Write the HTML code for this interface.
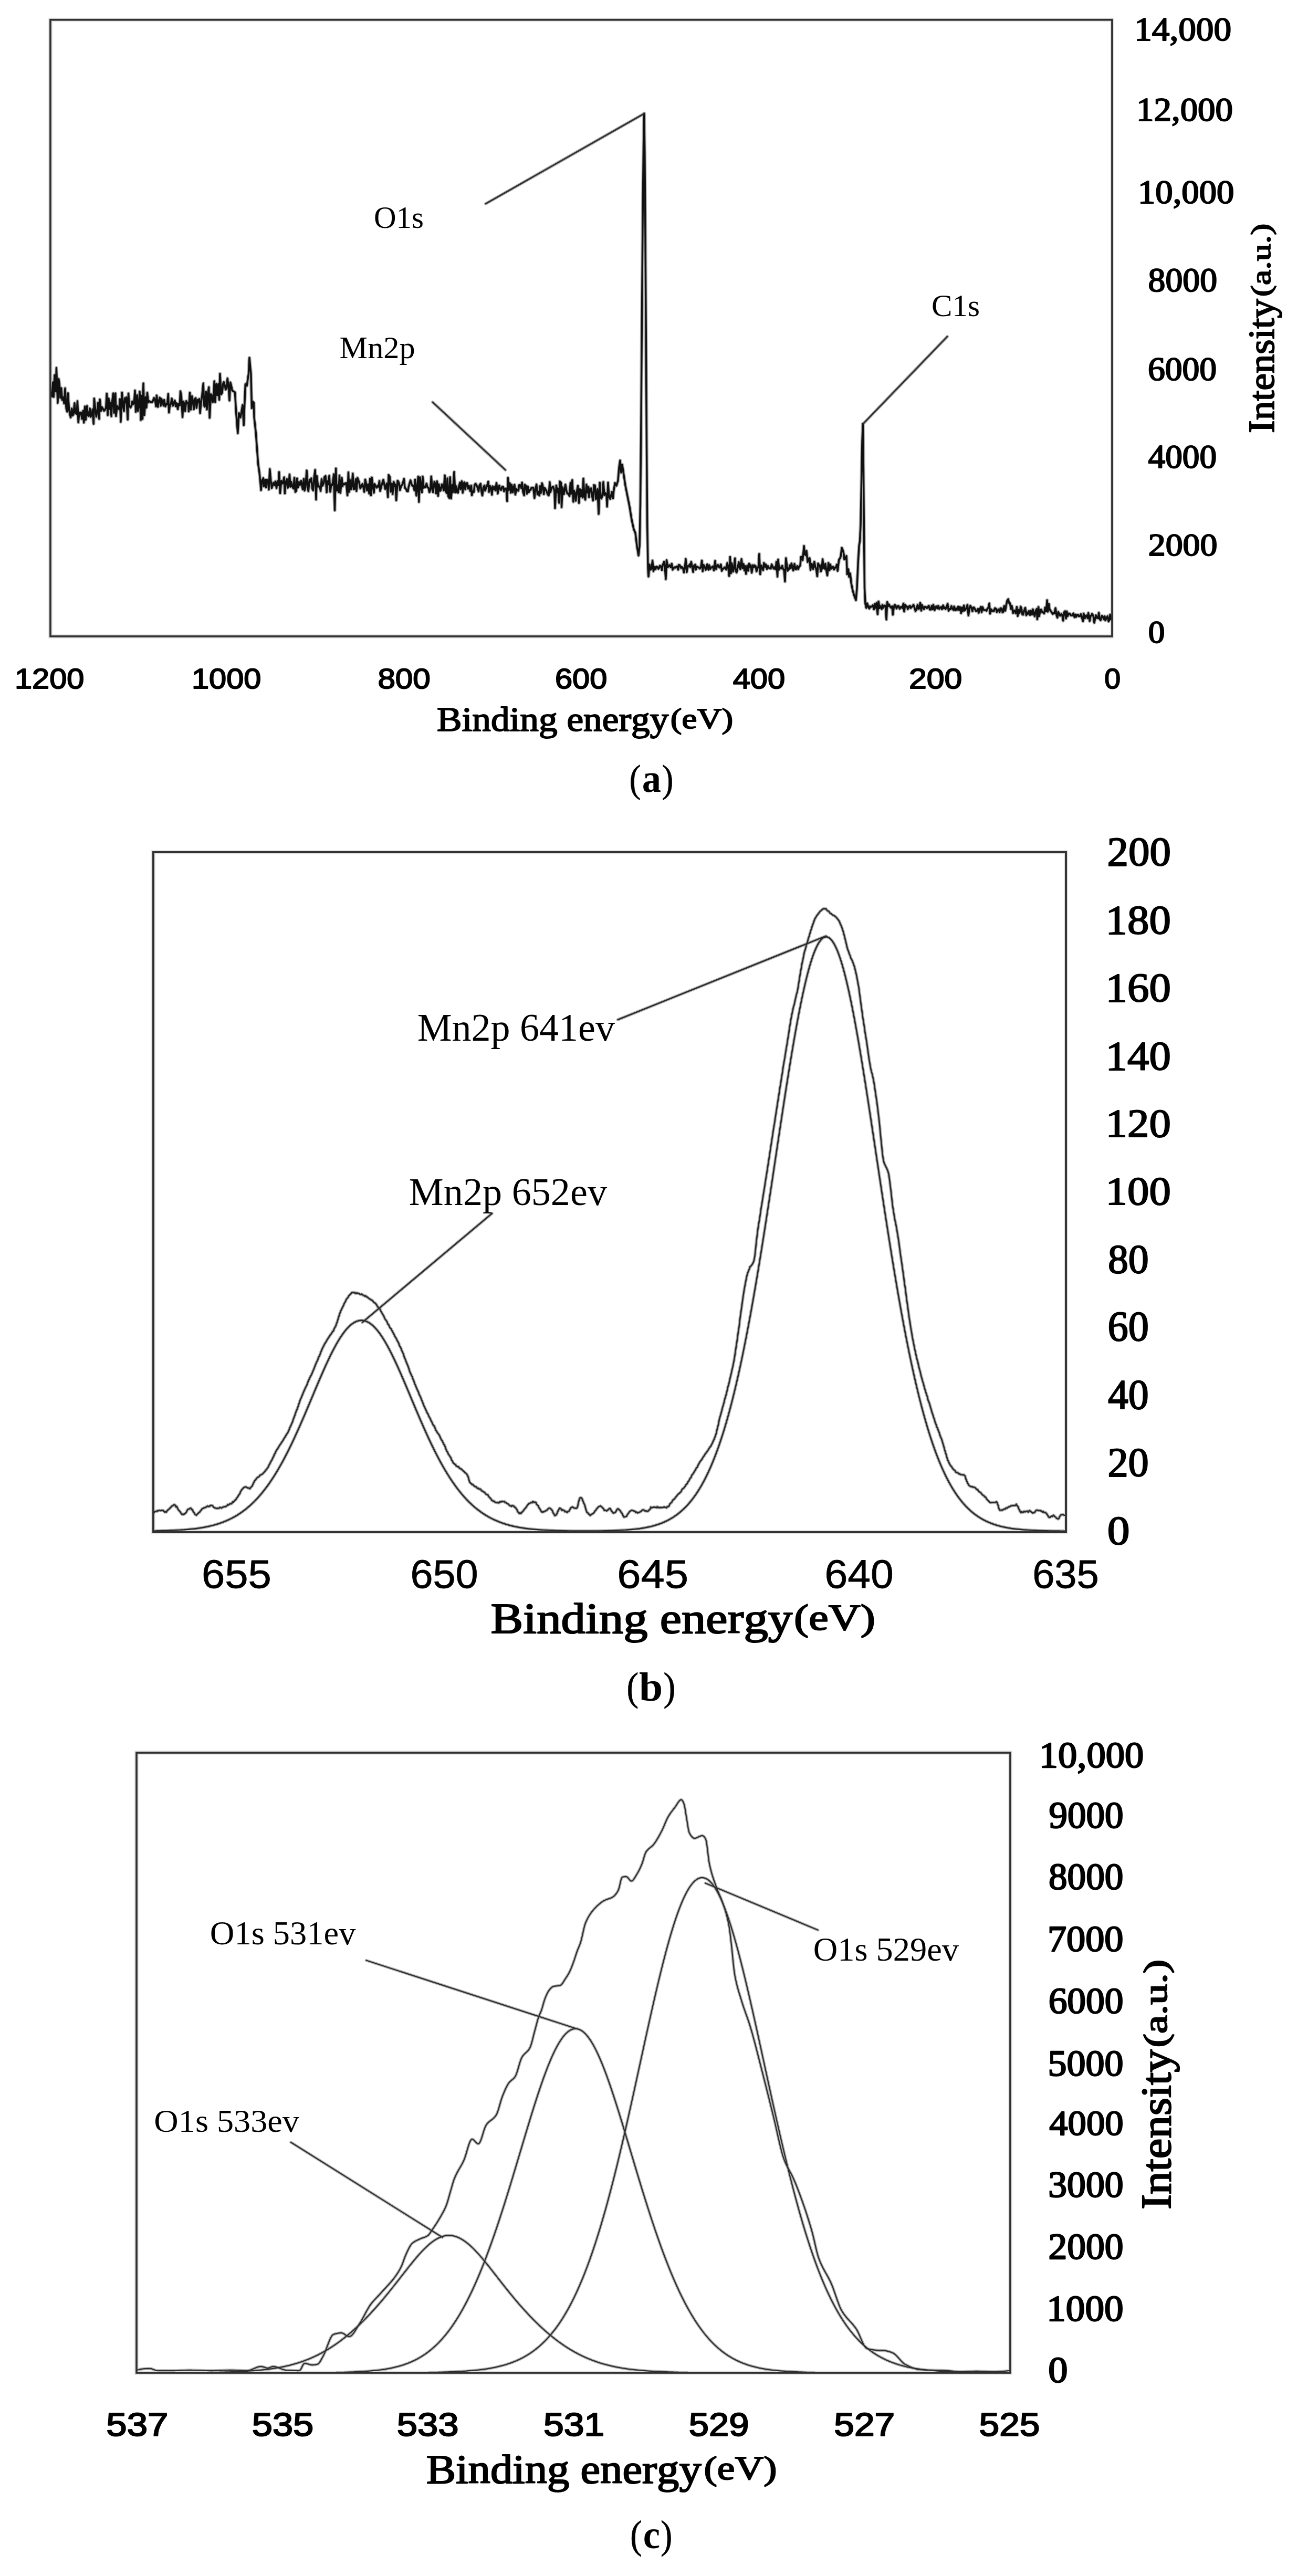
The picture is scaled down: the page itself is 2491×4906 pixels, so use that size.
<!DOCTYPE html>
<html><head><meta charset="utf-8"><title>XPS spectra</title>
<style>
html,body{margin:0;padding:0;background:#fff;}
body{width:2491px;height:4906px;overflow:hidden;}
svg{display:block;}
text{font-kerning:none;font-feature-settings:"kern" 0,"liga" 0;}
</style></head><body>
<svg xmlns="http://www.w3.org/2000/svg" width="2491" height="4906" viewBox="0 0 2491 4906">
<defs>
<path id="c0" d="M97.1 747.9 L99.2 755.3 L100.8 728.1 L102.2 755.9 L104.0 714.4 L106.3 745.6 L107.4 700.5 L109.9 767.3 L111.7 721.7 L113.2 731.7 L114.8 757.5 L116.6 739.0 L118.4 761.5 L120.4 756.7 L122.2 768.5 L124.0 739.4 L126.2 778.0 L127.9 784.0 L129.5 748.8 L131.6 780.3 L132.7 786.7 L134.5 795.0 L136.7 777.9 L138.0 791.4 L139.8 789.6 L142.0 767.8 L143.8 786.5 L146.0 788.3 L147.5 763.9 L149.2 804.4 L151.0 785.8 L152.6 789.0 L154.2 785.5 L156.1 797.7 L158.4 782.3 L159.7 804.9 L161.7 774.0 L163.2 799.5 L165.7 773.2 L166.9 790.8 L168.8 792.3 L171.1 778.1 L172.6 793.9 L174.7 790.6 L176.3 779.5 L178.2 807.2 L179.4 758.9 L181.6 780.2 L183.4 793.8 L185.5 779.7 L186.9 767.1 L188.9 797.8 L190.2 760.8 L192.3 782.6 L194.0 775.3 L195.7 777.9 L198.1 782.4 L199.5 781.4 L201.8 776.2 L203.3 749.4 L205.1 790.6 L206.9 758.8 L208.8 779.0 L210.1 766.9 L212.1 792.7 L213.8 763.6 L215.7 749.0 L217.2 786.3 L219.8 749.1 L220.9 792.4 L223.2 773.2 L224.6 777.5 L226.9 779.5 L228.5 760.1 L229.9 803.3 L232.3 747.5 L234.2 772.1 L236.0 783.1 L237.5 758.3 L238.9 766.6 L240.7 756.7 L243.2 799.1 L244.6 749.2 L246.1 772.4 L248.5 776.2 L250.1 773.4 L251.9 764.5 L253.5 769.9 L255.3 767.7 L257.0 743.7 L258.6 784.4 L261.1 752.5 L262.6 782.8 L264.4 772.8 L266.0 745.9 L268.2 799.8 L269.4 753.6 L271.5 797.8 L273.0 730.0 L274.9 790.5 L277.4 756.3 L278.9 776.3 L280.5 748.2 L282.4 766.5 L284.5 763.8 L285.9 764.8 L287.9 766.2 L289.8 765.7 L291.3 763.3 L293.2 757.9 L295.2 761.4 L297.2 774.0 L298.3 753.0 L300.8 775.0 L301.8 765.7 L304.2 757.3 L306.1 772.9 L307.3 759.6 L309.3 764.4 L311.5 772.6 L312.6 761.5 L314.9 774.0 L316.9 769.7 L318.4 770.2 L320.4 750.3 L321.8 785.8 L323.5 772.4 L325.5 769.1 L327.1 758.9 L329.1 772.8 L331.4 766.2 L332.9 762.8 L334.5 773.5 L336.2 767.9 L338.6 779.4 L340.0 768.8 L342.2 772.3 L343.6 745.0 L345.4 755.0 L347.6 794.5 L349.2 764.7 L350.9 768.8 L352.5 783.1 L354.7 763.8 L356.1 766.9 L358.4 766.8 L359.4 783.7 L361.5 747.9 L363.4 780.1 L365.6 754.4 L366.8 760.0 L369.1 779.6 L370.8 760.2 L372.6 758.0 L374.3 776.9 L376.4 761.6 L377.6 765.7 L379.5 759.8 L381.1 786.7 L382.8 768.0 L384.7 753.9 L387.2 730.1 L388.9 772.8 L390.1 774.6 L392.3 746.2 L394.0 779.9 L395.9 749.4 L397.7 737.4 L399.2 795.7 L401.6 750.7 L403.0 752.1 L404.9 765.9 L406.7 764.2 L408.1 726.0 L409.8 765.7 L411.9 731.2 L414.0 752.8 L415.9 731.5 L417.6 761.4 L418.9 711.7 L421.4 751.0 L423.1 748.0 L424.9 730.4 L426.4 727.7 L428.6 735.8 L429.6 741.9 L431.4 740.3 L433.2 720.7 L435.2 735.6 L437.0 762.8 L438.7 728.3 L440.9 736.5 L442.2 744.0 L444.5 745.1 L447.4 747.0 L450.0 790.0 L452.8 825.0 L455.0 786.8 L458.0 795.0 L462.0 771.5 L464.2 809.7 L467.3 731.7 L470.0 735.0 L473.4 711.9 L475.0 681.3 L478.0 713.4 L479.5 777.6 L481.5 765.0 L483.3 767.0 L484.0 794.4 L487.2 823.5 L489.5 855.0 L491.7 884.6 L494.0 900.0 L495.5 915.0 L497.1 933.6 L499.1 914.9 L501.5 910.6 L502.5 925.9 L505.1 913.8 L506.6 928.3 L507.9 913.5 L510.2 914.7 L511.9 932.4 L513.8 893.4 L515.7 914.7 L517.5 929.5 L519.5 923.7 L520.6 919.4 L523.0 923.8 L524.4 917.0 L526.6 929.6 L528.5 916.2 L530.3 924.1 L531.5 899.0 L533.5 939.4 L535.7 915.7 L537.5 920.9 L538.8 920.6 L541.1 908.9 L542.4 939.8 L544.2 918.9 L546.3 912.5 L547.9 929.1 L549.7 925.8 L551.4 903.6 L553.2 927.1 L554.8 917.7 L556.5 925.9 L558.9 930.5 L560.6 909.8 L562.5 937.0 L564.4 934.6 L565.7 911.0 L567.5 928.5 L569.3 917.9 L571.1 923.7 L573.3 915.7 L574.8 923.1 L576.5 931.8 L578.6 911.8 L580.0 934.4 L581.7 927.6 L584.1 896.0 L585.9 927.5 L587.3 935.4 L589.4 913.5 L590.7 918.1 L592.8 911.0 L594.8 930.9 L596.3 933.9 L598.2 909.7 L600.2 894.9 L602.0 951.4 L603.4 906.5 L605.7 926.8 L606.9 925.3 L609.5 928.7 L610.6 935.1 L612.5 912.4 L614.2 925.1 L616.7 919.9 L617.9 908.5 L620.0 906.5 L622.1 937.7 L623.9 916.3 L624.9 922.8 L627.1 906.1 L629.0 936.6 L630.9 923.0 L632.4 924.1 L634.1 917.0 L635.7 903.1 L637.5 971.9 L639.7 892.1 L641.1 934.4 L643.0 924.3 L644.9 937.3 L646.5 905.5 L648.3 938.7 L650.9 910.0 L652.2 926.1 L653.8 921.2 L656.1 922.6 L657.3 920.5 L659.3 919.8 L661.7 943.6 L663.5 899.6 L665.0 936.6 L666.3 914.0 L668.3 932.1 L669.9 925.6 L671.8 901.9 L673.5 931.6 L675.4 931.1 L677.6 912.6 L678.9 935.3 L680.8 910.0 L683.3 916.6 L684.6 922.1 L686.3 930.1 L687.9 926.2 L690.4 921.7 L692.1 928.6 L693.7 936.9 L695.6 913.2 L696.9 919.0 L698.9 933.9 L701.0 922.3 L703.1 940.0 L704.8 911.5 L706.4 943.5 L708.1 909.2 L709.5 922.9 L712.1 938.4 L713.1 921.5 L715.0 924.7 L717.3 928.8 L719.2 925.2 L721.0 926.9 L722.5 915.9 L724.0 935.2 L725.7 928.4 L728.2 919.3 L730.1 913.6 L731.3 920.0 L733.6 931.4 L735.0 926.3 L736.7 920.9 L738.7 946.6 L740.1 904.6 L742.2 907.7 L743.8 936.4 L746.1 920.8 L747.7 941.2 L749.8 917.7 L751.7 925.7 L752.9 922.6 L754.7 952.8 L757.1 915.6 L758.5 916.8 L759.9 920.4 L761.7 933.4 L764.3 924.6 L765.8 923.4 L767.1 920.1 L769.3 912.0 L771.1 929.2 L772.8 930.6 L775.1 935.6 L776.9 935.7 L778.0 928.2 L779.8 921.2 L781.8 914.7 L784.0 922.6 L785.6 925.3 L787.5 925.0 L789.2 933.9 L790.6 913.3 L793.0 943.9 L794.1 932.3 L796.5 907.6 L797.8 955.9 L799.9 909.0 L802.1 931.0 L803.5 937.8 L804.9 907.4 L807.0 929.2 L809.0 926.7 L810.3 927.8 L812.3 921.0 L813.9 927.6 L816.1 929.3 L817.8 937.6 L819.7 933.6 L821.3 907.3 L823.4 930.8 L824.8 937.6 L827.3 917.4 L829.1 922.2 L830.5 939.8 L832.3 916.5 L834.4 944.4 L835.7 922.2 L838.0 935.1 L839.3 933.6 L841.5 922.5 L843.0 925.0 L845.0 934.0 L847.1 905.3 L848.1 933.3 L850.6 939.1 L852.1 910.9 L853.8 945.5 L855.6 948.4 L857.1 908.8 L859.1 949.4 L861.2 923.8 L862.5 937.6 L864.9 898.8 L866.9 937.9 L868.7 925.9 L870.5 937.6 L872.2 938.4 L873.4 928.2 L875.9 919.1 L877.0 931.7 L879.4 916.4 L881.2 938.4 L882.8 920.7 L884.5 918.7 L886.0 932.1 L888.1 920.2 L889.7 919.9 L891.4 930.7 L893.2 925.4 L895.6 935.4 L897.5 924.8 L898.6 943.3 L900.3 935.8 L902.3 937.2 L904.0 923.1 L905.8 921.3 L908.0 925.1 L909.6 929.0 L911.4 935.9 L913.0 924.6 L915.2 921.3 L916.7 935.0 L918.6 943.8 L920.5 928.3 L922.7 924.6 L923.9 934.5 L926.1 928.1 L927.5 925.6 L929.9 917.1 L931.2 937.0 L933.1 925.6 L935.2 930.7 L936.9 942.2 L938.1 926.0 L940.0 932.2 L942.5 926.7 L943.5 934.1 L945.5 919.7 L947.9 940.0 L948.9 933.9 L950.8 924.6 L952.6 931.4 L954.3 933.3 L956.5 926.9 L958.4 927.3 L959.9 935.7 L961.5 930.6 L964.0 930.2 L965.8 954.4 L967.4 910.2 L968.8 933.2 L970.9 920.0 L972.8 938.4 L974.4 923.3 L976.6 937.8 L978.0 928.1 L979.9 923.2 L981.4 942.0 L983.6 931.2 L985.5 933.9 L987.3 934.5 L988.7 923.8 L991.1 924.1 L992.7 929.5 L994.2 919.1 L996.0 936.6 L998.2 943.5 L999.4 923.1 L1001.6 925.4 L1003.5 940.4 L1005.1 926.2 L1007.2 937.4 L1008.7 933.6 L1010.5 933.0 L1012.1 929.0 L1014.5 928.6 L1015.7 929.0 L1017.9 948.6 L1019.4 933.5 L1021.7 922.6 L1023.5 941.6 L1024.5 936.0 L1027.1 943.8 L1028.6 925.7 L1029.9 939.2 L1032.1 920.2 L1033.5 924.3 L1035.7 941.2 L1037.2 929.2 L1039.2 932.2 L1040.9 935.4 L1043.0 941.6 L1045.0 943.6 L1046.9 918.2 L1048.1 937.5 L1050.2 930.6 L1051.5 928.1 L1053.6 926.8 L1055.9 935.3 L1057.0 967.7 L1059.4 924.5 L1061.0 937.2 L1062.5 930.2 L1064.8 957.6 L1066.1 916.9 L1068.5 919.5 L1069.5 966.0 L1071.4 927.9 L1073.7 941.5 L1075.3 932.1 L1076.8 922.8 L1078.9 935.4 L1080.5 940.1 L1082.5 940.1 L1084.5 944.8 L1086.4 919.6 L1087.5 940.3 L1089.8 914.3 L1091.9 955.6 L1093.3 934.6 L1095.3 940.1 L1096.5 953.8 L1099.0 933.3 L1100.6 925.2 L1102.6 957.9 L1104.4 931.6 L1106.2 945.7 L1107.3 933.5 L1109.7 947.7 L1111.0 911.3 L1112.9 943.9 L1114.7 951.8 L1116.8 922.8 L1118.6 938.0 L1120.7 927.4 L1121.7 946.7 L1123.6 932.2 L1125.6 929.8 L1127.8 945.7 L1129.3 953.3 L1131.1 923.8 L1133.1 924.5 L1134.8 950.8 L1136.3 944.8 L1137.9 931.5 L1140.1 978.8 L1142.2 919.2 L1143.8 943.9 L1145.1 949.6 L1147.2 944.5 L1149.0 917.9 L1151.0 943.0 L1152.8 938.9 L1154.9 941.9 L1156.2 964.9 L1158.0 919.0 L1160.0 946.2 L1162.0 950.3 L1163.7 943.8 L1165.3 936.8 L1167.4 949.0 L1168.9 934.0 L1171.1 919.8 L1174.0 925.0 L1177.0 915.0 L1179.0 890.0 L1181.0 877.0 L1183.0 900.0 L1185.0 885.0 L1188.0 905.0 L1191.0 925.0 L1195.0 945.0 L1199.0 965.0 L1203.0 990.0 L1207.0 1008.0 L1210.0 1015.0 L1213.0 1040.0 L1216.0 1058.0 L1218.0 1040.0 L1219.5 960.0 L1221.0 800.0 L1222.5 600.0 L1224.0 420.0 L1225.5 280.0 L1226.7 216.0 L1227.8 290.0 L1229.0 450.0 L1230.3 650.0 L1231.5 850.0 L1232.7 1000.0 L1234.0 1080.0 L1235.0 1098.0 L1237.0 1075.0 L1239.0 1085.0 L1241.0 1082.3 L1242.6 1067.6 L1244.4 1087.8 L1246.8 1079.6 L1248.2 1084.4 L1250.1 1079.1 L1252.0 1079.8 L1253.9 1083.3 L1255.2 1081.9 L1256.8 1077.3 L1259.0 1078.7 L1260.5 1085.6 L1262.2 1076.0 L1264.8 1069.7 L1266.3 1081.0 L1267.9 1102.9 L1269.5 1066.8 L1271.8 1080.2 L1273.4 1078.0 L1274.9 1076.4 L1277.4 1080.3 L1279.2 1073.5 L1281.0 1085.1 L1282.7 1081.9 L1284.2 1080.4 L1285.8 1081.3 L1287.9 1079.4 L1289.3 1078.7 L1291.5 1085.0 L1292.8 1075.7 L1294.6 1076.6 L1297.0 1081.8 L1298.5 1079.7 L1300.6 1081.9 L1302.5 1090.3 L1304.3 1080.9 L1305.9 1064.5 L1307.9 1089.6 L1309.5 1078.1 L1311.6 1078.8 L1313.4 1074.9 L1314.4 1080.0 L1316.4 1070.0 L1318.3 1080.2 L1320.0 1089.4 L1321.7 1077.4 L1324.1 1075.4 L1325.2 1084.9 L1327.1 1079.0 L1329.4 1080.4 L1330.8 1080.7 L1332.6 1082.9 L1335.0 1079.8 L1336.6 1067.6 L1338.2 1088.0 L1339.7 1075.8 L1341.6 1078.3 L1344.0 1085.2 L1345.7 1079.2 L1346.8 1074.8 L1349.2 1085.1 L1350.7 1076.4 L1352.8 1083.6 L1354.2 1080.7 L1355.9 1080.2 L1357.6 1078.7 L1359.6 1086.5 L1361.9 1068.2 L1363.8 1083.7 L1365.4 1078.2 L1367.2 1075.8 L1368.5 1079.3 L1370.5 1080.9 L1372.8 1075.0 L1374.6 1087.2 L1375.9 1083.8 L1378.0 1082.8 L1380.0 1080.5 L1381.8 1081.0 L1383.0 1084.9 L1385.1 1072.3 L1386.7 1079.2 L1388.6 1097.0 L1390.4 1060.5 L1392.0 1091.8 L1393.6 1072.8 L1396.0 1088.8 L1397.8 1079.4 L1399.7 1063.3 L1400.9 1086.2 L1402.8 1090.4 L1404.9 1080.5 L1407.0 1070.7 L1408.4 1080.9 L1409.9 1084.1 L1412.1 1064.7 L1414.2 1082.2 L1415.9 1074.0 L1417.8 1086.5 L1419.1 1077.9 L1420.8 1093.0 L1423.1 1077.2 L1424.9 1087.0 L1426.7 1073.2 L1428.1 1080.0 L1429.8 1076.3 L1431.6 1090.7 L1433.9 1076.5 L1435.8 1080.3 L1437.1 1076.7 L1439.3 1078.8 L1440.7 1088.3 L1442.6 1082.6 L1444.5 1078.7 L1445.9 1054.9 L1447.8 1093.6 L1449.6 1077.0 L1451.4 1081.7 L1453.4 1085.8 L1454.8 1072.2 L1457.3 1079.8 L1458.5 1074.9 L1460.5 1083.7 L1462.5 1077.9 L1463.9 1081.3 L1465.9 1082.5 L1467.9 1082.9 L1469.6 1074.9 L1471.8 1080.2 L1473.5 1083.0 L1474.7 1080.0 L1477.1 1084.5 L1478.6 1070.1 L1480.6 1098.2 L1481.9 1065.5 L1484.0 1084.7 L1486.0 1080.7 L1487.9 1082.6 L1489.7 1077.5 L1490.9 1082.7 L1493.3 1086.3 L1494.9 1107.6 L1496.8 1062.9 L1498.7 1077.7 L1500.1 1086.9 L1502.4 1083.9 L1504.1 1076.8 L1505.9 1082.4 L1507.3 1073.1 L1509.2 1080.3 L1510.7 1086.6 L1513.0 1073.8 L1515.0 1084.1 L1516.1 1084.5 L1518.4 1077.9 L1520.2 1084.1 L1521.4 1080.2 L1524.0 1076.9 L1525.4 1060.5 L1527.0 1060.5 L1528.6 1066.8 L1531.1 1039.8 L1532.5 1055.1 L1534.4 1057.4 L1535.9 1049.0 L1538.1 1070.3 L1539.7 1063.9 L1541.9 1062.9 L1543.5 1085.4 L1545.4 1073.8 L1546.8 1075.1 L1548.4 1083.7 L1550.9 1069.8 L1552.8 1080.4 L1554.3 1083.0 L1556.4 1097.6 L1558.0 1073.1 L1559.7 1076.3 L1561.3 1076.5 L1563.1 1088.3 L1565.0 1084.0 L1566.6 1064.9 L1568.5 1081.7 L1570.4 1083.1 L1571.8 1073.5 L1573.9 1087.3 L1575.6 1096.0 L1577.7 1072.0 L1579.7 1085.9 L1581.3 1075.1 L1583.1 1083.1 L1584.9 1081.2 L1586.4 1079.3 L1588.3 1084.8 L1590.5 1080.7 L1592.4 1080.5 L1593.5 1075.2 L1595.2 1087.3 L1597.8 1066.0 L1599.5 1063.5 L1601.1 1059.9 L1603.1 1043.4 L1604.7 1046.6 L1606.8 1054.3 L1608.0 1065.5 L1609.9 1063.8 L1612.0 1058.9 L1613.3 1093.6 L1615.6 1084.0 L1617.0 1098.7 L1619.2 1092.2 L1621.0 1109.8 L1624.0 1125.0 L1627.0 1135.0 L1630.0 1143.0 L1632.0 1120.0 L1634.0 1075.0 L1636.0 1040.0 L1637.5 1031.0 L1639.0 1000.0 L1640.5 920.0 L1642.0 840.0 L1643.3 807.0 L1644.5 900.0 L1645.5 1020.0 L1646.5 1120.0 L1648.0 1150.0 L1649.8 1157.7 L1651.5 1149.0 L1653.8 1156.2 L1655.7 1159.0 L1657.0 1154.9 L1658.7 1155.8 L1660.6 1155.0 L1662.3 1152.7 L1664.3 1160.5 L1666.2 1150.3 L1668.1 1157.7 L1669.4 1148.5 L1671.3 1169.8 L1673.1 1145.5 L1675.0 1158.2 L1676.7 1154.3 L1679.2 1160.0 L1680.5 1152.1 L1682.1 1157.6 L1684.3 1153.2 L1686.4 1153.4 L1688.1 1179.9 L1689.7 1146.5 L1691.3 1154.4 L1693.1 1151.1 L1694.8 1155.0 L1697.1 1157.5 L1698.9 1154.7 L1700.4 1170.8 L1702.5 1155.0 L1704.1 1151.8 L1706.0 1154.2 L1707.4 1158.9 L1709.2 1154.9 L1711.0 1153.9 L1713.4 1159.5 L1715.1 1156.4 L1717.0 1155.5 L1718.7 1158.4 L1720.5 1149.4 L1721.9 1164.7 L1724.0 1151.9 L1725.3 1154.0 L1727.5 1155.5 L1728.8 1160.1 L1731.4 1154.5 L1733.1 1153.8 L1734.3 1158.0 L1736.6 1155.7 L1738.5 1154.3 L1739.6 1151.8 L1741.9 1158.1 L1743.5 1163.8 L1745.5 1160.7 L1747.5 1152.0 L1749.2 1159.6 L1750.5 1158.9 L1752.6 1148.2 L1754.5 1163.0 L1755.8 1152.0 L1757.7 1156.7 L1759.7 1160.2 L1761.3 1155.6 L1763.2 1155.8 L1765.4 1158.3 L1767.4 1155.4 L1768.8 1153.6 L1770.7 1160.9 L1772.6 1161.1 L1774.4 1153.8 L1776.1 1160.4 L1777.4 1151.9 L1779.9 1162.3 L1781.1 1157.1 L1782.9 1154.7 L1785.0 1158.8 L1786.9 1153.9 L1788.8 1159.7 L1790.2 1157.5 L1792.6 1155.9 L1794.1 1160.4 L1796.1 1152.9 L1797.6 1158.6 L1799.0 1156.5 L1800.8 1159.8 L1803.1 1154.9 L1804.7 1149.9 L1806.5 1163.2 L1808.2 1159.7 L1809.9 1160.3 L1812.0 1154.3 L1813.6 1159.4 L1816.0 1161.9 L1817.1 1155.0 L1819.6 1162.4 L1821.3 1158.9 L1822.7 1161.3 L1824.8 1155.2 L1826.5 1161.7 L1828.2 1156.1 L1830.3 1167.7 L1832.1 1157.1 L1833.3 1164.2 L1835.8 1153.1 L1836.8 1162.9 L1838.6 1161.1 L1840.8 1156.6 L1842.4 1152.0 L1844.3 1172.1 L1846.2 1158.8 L1848.0 1153.6 L1850.2 1158.3 L1852.0 1164.2 L1853.3 1157.0 L1855.0 1156.9 L1857.1 1160.6 L1858.5 1163.7 L1860.5 1163.2 L1862.6 1159.6 L1863.8 1167.1 L1866.2 1159.7 L1868.0 1155.8 L1869.5 1165.7 L1871.2 1156.1 L1873.2 1161.5 L1874.8 1161.9 L1877.1 1161.9 L1878.7 1163.3 L1880.2 1159.6 L1882.5 1156.9 L1884.1 1149.1 L1885.5 1168.8 L1887.5 1160.4 L1889.4 1163.8 L1891.6 1162.5 L1892.8 1163.8 L1894.8 1158.2 L1897.0 1159.5 L1898.3 1165.6 L1900.5 1161.8 L1901.6 1160.5 L1903.7 1165.7 L1905.3 1158.4 L1907.7 1158.7 L1909.2 1166.1 L1910.7 1165.3 L1912.4 1154.1 L1914.5 1163.1 L1916.0 1153.9 L1918.2 1143.8 L1920.2 1141.1 L1921.6 1148.2 L1923.3 1148.5 L1925.3 1159.6 L1926.9 1153.7 L1929.3 1167.5 L1930.4 1162.6 L1932.8 1163.1 L1934.3 1167.9 L1936.4 1155.8 L1938.2 1173.2 L1939.5 1161.5 L1941.8 1167.3 L1943.8 1155.3 L1945.3 1158.9 L1947.1 1170.4 L1948.6 1170.7 L1950.3 1163.2 L1952.6 1157.5 L1954.5 1171.8 L1955.7 1166.1 L1957.5 1169.3 L1959.5 1163.7 L1961.5 1171.3 L1963.1 1163.0 L1965.4 1170.4 L1967.1 1160.4 L1969.0 1169.4 L1970.5 1173.8 L1972.4 1163.6 L1974.4 1159.8 L1975.4 1179.5 L1977.7 1155.9 L1979.1 1173.5 L1981.5 1161.6 L1982.8 1161.0 L1985.0 1166.3 L1986.4 1166.4 L1988.5 1168.4 L1990.4 1157.1 L1992.4 1164.3 L1994.1 1143.0 L1995.5 1165.1 L1997.6 1150.3 L1998.9 1160.4 L2000.6 1162.9 L2003.0 1166.4 L2005.0 1169.3 L2006.6 1167.6 L2008.2 1167.9 L2010.1 1158.1 L2012.0 1171.2 L2013.7 1176.3 L2015.3 1165.4 L2017.5 1169.6 L2018.9 1172.7 L2021.2 1169.4 L2022.9 1171.7 L2024.7 1182.1 L2026.5 1166.2 L2028.4 1164.0 L2030.2 1177.9 L2031.6 1164.3 L2033.3 1173.4 L2035.4 1168.3 L2037.4 1168.8 L2038.9 1171.5 L2040.2 1172.1 L2042.0 1172.0 L2044.2 1168.2 L2046.3 1175.5 L2048.1 1170.4 L2049.5 1174.9 L2051.4 1171.0 L2053.2 1171.1 L2054.6 1173.6 L2056.4 1173.5 L2058.6 1169.7 L2060.4 1176.5 L2062.5 1183.2 L2063.7 1168.5 L2066.1 1177.6 L2067.4 1172.9 L2069.4 1172.1 L2071.4 1177.4 L2072.7 1167.4 L2075.2 1182.8 L2077.0 1172.8 L2078.8 1172.5 L2079.8 1169.1 L2082.1 1172.7 L2084.0 1185.9 L2085.9 1177.1 L2087.1 1171.8 L2088.9 1176.7 L2091.3 1177.4 L2092.6 1167.0 L2094.2 1178.7 L2096.0 1181.3 L2098.3 1172.9 L2100.0 1173.8 L2102.0 1179.2 L2103.9 1173.8 L2105.0 1181.5 L2107.6 1176.5 L2109.3 1173.6 L2111.2 1183.7 L2112.8 1180.9 L2114.3 1170.2 L2116.0 1179.9"/>
<path id="c1" d="M293.5 2915.5 L295.5 2915.5 L297.5 2915.5 L299.5 2915.4 L301.5 2915.4 L303.5 2915.4 L305.5 2915.3 L307.5 2915.3 L309.5 2915.2 L311.5 2915.2 L313.5 2915.1 L315.5 2915.1 L317.5 2915.0 L319.5 2915.0 L321.5 2914.9 L323.5 2914.8 L325.5 2914.7 L327.5 2914.7 L329.5 2914.6 L331.5 2914.5 L333.5 2914.4 L335.5 2914.3 L337.5 2914.2 L339.5 2914.1 L341.5 2914.0 L343.5 2913.9 L345.5 2913.7 L347.5 2913.6 L349.5 2913.5 L351.5 2913.3 L353.5 2913.2 L355.5 2913.0 L357.5 2912.8 L359.5 2912.6 L361.5 2912.4 L363.5 2912.2 L365.5 2912.0 L367.5 2911.8 L369.5 2911.6 L371.5 2911.3 L373.5 2911.1 L375.5 2910.8 L377.5 2910.5 L379.5 2910.3 L381.5 2909.9 L383.5 2909.6 L385.5 2909.3 L387.5 2908.9 L389.5 2908.6 L391.5 2908.2 L393.5 2907.8 L395.5 2907.4 L397.5 2906.9 L399.5 2906.5 L401.5 2906.0 L403.5 2905.5 L405.5 2905.0 L407.5 2904.5 L409.5 2903.9 L411.5 2903.3 L413.5 2902.7 L415.5 2902.1 L417.5 2901.5 L419.5 2900.8 L421.5 2900.1 L423.5 2899.4 L425.5 2898.6 L427.5 2897.8 L429.5 2897.0 L431.5 2896.1 L433.5 2895.3 L435.5 2894.3 L437.5 2893.4 L439.5 2892.4 L441.5 2891.4 L443.5 2890.3 L445.5 2889.3 L447.5 2888.1 L449.5 2887.0 L451.5 2885.8 L453.5 2884.5 L455.5 2883.2 L457.5 2881.9 L459.5 2880.5 L461.5 2879.1 L463.5 2877.6 L465.5 2876.1 L467.5 2874.6 L469.5 2873.0 L471.5 2871.3 L473.5 2869.6 L475.5 2867.9 L477.5 2866.1 L479.5 2864.2 L481.5 2862.3 L483.5 2860.4 L485.5 2858.4 L487.5 2856.3 L489.5 2854.2 L491.5 2852.0 L493.5 2849.7 L495.5 2847.4 L497.5 2845.1 L499.5 2842.7 L501.5 2840.2 L503.5 2837.6 L505.5 2835.0 L507.5 2832.4 L509.5 2829.6 L511.5 2826.9 L513.5 2824.0 L515.5 2821.1 L517.5 2818.1 L519.5 2815.1 L521.5 2812.0 L523.5 2808.8 L525.5 2805.5 L527.5 2802.2 L529.5 2798.9 L531.5 2795.4 L533.5 2791.9 L535.5 2788.4 L537.5 2784.8 L539.5 2781.1 L541.5 2777.3 L543.5 2773.5 L545.5 2769.7 L547.5 2765.7 L549.5 2761.8 L551.5 2757.7 L553.5 2753.6 L555.5 2749.5 L557.5 2745.3 L559.5 2741.0 L561.5 2736.7 L563.5 2732.3 L565.5 2727.9 L567.5 2723.5 L569.5 2719.0 L571.5 2714.5 L573.5 2709.9 L575.5 2705.3 L577.5 2700.7 L579.5 2696.1 L581.5 2691.4 L583.5 2686.7 L585.5 2681.9 L587.5 2677.2 L589.5 2672.4 L591.5 2667.7 L593.5 2662.9 L595.5 2658.2 L597.5 2653.4 L599.5 2648.6 L601.5 2643.9 L603.5 2639.2 L605.5 2634.4 L607.5 2629.8 L609.5 2625.1 L611.5 2620.5 L613.5 2615.9 L615.5 2611.4 L617.5 2606.9 L619.5 2602.4 L621.5 2598.0 L623.5 2593.7 L625.5 2589.4 L627.5 2585.3 L629.5 2581.1 L631.5 2577.1 L633.5 2573.2 L635.5 2569.3 L637.5 2565.6 L639.5 2561.9 L641.5 2558.4 L643.5 2554.9 L645.5 2551.6 L647.5 2548.4 L649.5 2545.3 L651.5 2542.4 L653.5 2539.6 L655.5 2536.9 L657.5 2534.3 L659.5 2531.9 L661.5 2529.7 L663.5 2527.6 L665.5 2525.6 L667.5 2523.8 L669.5 2522.1 L671.5 2520.7 L673.5 2519.3 L675.5 2518.2 L677.5 2517.2 L679.5 2516.3 L681.5 2515.7 L683.5 2515.2 L685.5 2514.9 L687.5 2514.7 L689.5 2514.7 L691.5 2514.9 L693.5 2515.3 L695.5 2515.8 L697.5 2516.5 L699.5 2517.4 L701.5 2518.4 L703.5 2519.6 L705.5 2520.9 L707.5 2522.5 L709.5 2524.1 L711.5 2526.0 L713.5 2528.0 L715.5 2530.1 L717.5 2532.4 L719.5 2534.8 L721.5 2537.4 L723.5 2540.1 L725.5 2543.0 L727.5 2545.9 L729.5 2549.1 L731.5 2552.3 L733.5 2555.6 L735.5 2559.1 L737.5 2562.7 L739.5 2566.3 L741.5 2570.1 L743.5 2574.0 L745.5 2577.9 L747.5 2582.0 L749.5 2586.1 L751.5 2590.3 L753.5 2594.6 L755.5 2598.9 L757.5 2603.3 L759.5 2607.7 L761.5 2612.3 L763.5 2616.8 L765.5 2621.4 L767.5 2626.0 L769.5 2630.7 L771.5 2635.4 L773.5 2640.1 L775.5 2644.8 L777.5 2649.6 L779.5 2654.3 L781.5 2659.1 L783.5 2663.9 L785.5 2668.6 L787.5 2673.4 L789.5 2678.1 L791.5 2682.9 L793.5 2687.6 L795.5 2692.3 L797.5 2697.0 L799.5 2701.6 L801.5 2706.3 L803.5 2710.8 L805.5 2715.4 L807.5 2719.9 L809.5 2724.4 L811.5 2728.8 L813.5 2733.2 L815.5 2737.6 L817.5 2741.9 L819.5 2746.1 L821.5 2750.3 L823.5 2754.4 L825.5 2758.5 L827.5 2762.6 L829.5 2766.5 L831.5 2770.4 L833.5 2774.3 L835.5 2778.1 L837.5 2781.8 L839.5 2785.5 L841.5 2789.1 L843.5 2792.7 L845.5 2796.1 L847.5 2799.6 L849.5 2802.9 L851.5 2806.2 L853.5 2809.4 L855.5 2812.6 L857.5 2815.7 L859.5 2818.7 L861.5 2821.7 L863.5 2824.6 L865.5 2827.4 L867.5 2830.2 L869.5 2832.9 L871.5 2835.6 L873.5 2838.2 L875.5 2840.7 L877.5 2843.1 L879.5 2845.6 L881.5 2847.9 L883.5 2850.2 L885.5 2852.4 L887.5 2854.6 L889.5 2856.7 L891.5 2858.8 L893.5 2860.8 L895.5 2862.7 L897.5 2864.6 L899.5 2866.5 L901.5 2868.2 L903.5 2870.0 L905.5 2871.7 L907.5 2873.3 L909.5 2874.9 L911.5 2876.4 L913.5 2877.9 L915.5 2879.4 L917.5 2880.8 L919.5 2882.2 L921.5 2883.5 L923.5 2884.8 L925.5 2886.0 L927.5 2887.2 L929.5 2888.4 L931.5 2889.5 L933.5 2890.6 L935.5 2891.6 L937.5 2892.6 L939.5 2893.6 L941.5 2894.5 L943.5 2895.4 L945.5 2896.3 L947.5 2897.1 L949.5 2898.0 L951.5 2898.7 L953.5 2899.5 L955.5 2900.2 L957.5 2900.9 L959.5 2901.6 L961.5 2902.2 L963.5 2902.9 L965.5 2903.5 L967.5 2904.0 L969.5 2904.6 L971.5 2905.1 L973.5 2905.6 L975.5 2906.1 L977.5 2906.6 L979.5 2907.0 L981.5 2907.5 L983.5 2907.9 L985.5 2908.3 L987.5 2908.7 L989.5 2909.0 L991.5 2909.4 L993.5 2909.7 L995.5 2910.0 L997.5 2910.3 L999.5 2910.6 L1001.5 2910.9 L1003.5 2911.1 L1005.5 2911.4 L1007.5 2911.6 L1009.5 2911.9 L1011.5 2912.1 L1013.5 2912.3 L1015.5 2912.5 L1017.5 2912.7 L1019.5 2912.8 L1021.5 2913.0 L1023.5 2913.2 L1025.5 2913.3 L1027.5 2913.5 L1029.5 2913.6 L1031.5 2913.8 L1033.5 2913.9 L1035.5 2914.0 L1037.5 2914.1 L1039.5 2914.2 L1041.5 2914.3 L1043.5 2914.4 L1045.5 2914.5 L1047.5 2914.6 L1049.5 2914.7 L1051.5 2914.7 L1053.5 2914.8 L1055.5 2914.9 L1057.5 2915.0 L1059.5 2915.0 L1061.5 2915.1 L1063.5 2915.1 L1065.5 2915.2 L1067.5 2915.2 L1069.5 2915.3 L1071.5 2915.3 L1073.5 2915.3 L1075.5 2915.4 L1077.5 2915.4 L1079.5 2915.4 L1081.5 2915.5 L1083.5 2915.5 L1085.5 2915.5 L1087.5 2915.6 L1089.5 2915.6 L1091.5 2915.6 L1093.5 2915.6 L1095.5 2915.6 L1097.5 2915.6 L1099.5 2915.7 L1101.5 2915.7 L1103.5 2915.7 L1105.5 2915.7 L1107.5 2915.7 L1109.5 2915.7 L1111.5 2915.7 L1113.5 2915.7 L1115.5 2915.7 L1117.5 2915.7 L1119.5 2915.7 L1121.5 2915.7 L1123.5 2915.7 L1125.5 2915.7 L1127.5 2915.7 L1129.5 2915.7 L1131.5 2915.6 L1133.5 2915.6 L1135.5 2915.6 L1137.5 2915.6 L1139.5 2915.6 L1141.5 2915.5 L1143.5 2915.5 L1145.5 2915.5 L1147.5 2915.5 L1149.5 2915.4 L1151.5 2915.4 L1153.5 2915.4 L1155.5 2915.3 L1157.5 2915.3 L1159.5 2915.2 L1161.5 2915.2 L1163.5 2915.1 L1165.5 2915.1 L1167.5 2915.0 L1169.5 2914.9 L1171.5 2914.9 L1173.5 2914.8 L1175.5 2914.7 L1177.5 2914.6 L1179.5 2914.5 L1181.5 2914.4 L1183.5 2914.3 L1185.5 2914.2 L1187.5 2914.1 L1189.5 2914.0 L1191.5 2913.9 L1193.5 2913.7 L1195.5 2913.6 L1197.5 2913.4 L1199.5 2913.2 L1201.5 2913.1 L1203.5 2912.9 L1205.5 2912.7 L1207.5 2912.5 L1209.5 2912.3 L1211.5 2912.0 L1213.5 2911.8 L1215.5 2911.6 L1217.5 2911.3 L1219.5 2911.0 L1221.5 2910.7 L1223.5 2910.4 L1225.5 2910.1 L1227.5 2909.7 L1229.5 2909.3 L1231.5 2908.9 L1233.5 2908.5 L1235.5 2908.1 L1237.5 2907.7 L1239.5 2907.2 L1241.5 2906.7 L1243.5 2906.2 L1245.5 2905.6 L1247.5 2905.0 L1249.5 2904.4 L1251.5 2903.8 L1253.5 2903.1 L1255.5 2902.4 L1257.5 2901.7 L1259.5 2900.9 L1261.5 2900.2 L1263.5 2899.3 L1265.5 2898.4 L1267.5 2897.5 L1269.5 2896.6 L1271.5 2895.6 L1273.5 2894.5 L1275.5 2893.4 L1277.5 2892.3 L1279.5 2891.1 L1281.5 2889.9 L1283.5 2888.6 L1285.5 2887.2 L1287.5 2885.8 L1289.5 2884.4 L1291.5 2882.9 L1293.5 2881.3 L1295.5 2879.6 L1297.5 2877.9 L1299.5 2876.1 L1301.5 2874.3 L1303.5 2872.3 L1305.5 2870.3 L1307.5 2868.3 L1309.5 2866.1 L1311.5 2863.8 L1313.5 2861.5 L1315.5 2859.1 L1317.5 2856.6 L1319.5 2854.0 L1321.5 2851.3 L1323.5 2848.6 L1325.5 2845.7 L1327.5 2842.7 L1329.5 2839.6 L1331.5 2836.4 L1333.5 2833.1 L1335.5 2829.7 L1337.5 2826.2 L1339.5 2822.5 L1341.5 2818.8 L1343.5 2814.9 L1345.5 2810.9 L1347.5 2806.7 L1349.5 2802.5 L1351.5 2798.1 L1353.5 2793.6 L1355.5 2788.9 L1357.5 2784.1 L1359.5 2779.1 L1361.5 2774.0 L1363.5 2768.8 L1365.5 2763.4 L1367.5 2757.9 L1369.5 2752.2 L1371.5 2746.3 L1373.5 2740.3 L1375.5 2734.1 L1377.5 2727.8 L1379.5 2721.3 L1381.5 2714.6 L1383.5 2707.8 L1385.5 2700.8 L1387.5 2693.6 L1389.5 2686.3 L1391.5 2678.7 L1393.5 2671.0 L1395.5 2663.2 L1397.5 2655.1 L1399.5 2646.9 L1401.5 2638.5 L1403.5 2629.9 L1405.5 2621.1 L1407.5 2612.1 L1409.5 2603.0 L1411.5 2593.7 L1413.5 2584.2 L1415.5 2574.5 L1417.5 2564.6 L1419.5 2554.6 L1421.5 2544.4 L1423.5 2534.0 L1425.5 2523.5 L1427.5 2512.7 L1429.5 2501.9 L1431.5 2490.8 L1433.5 2479.6 L1435.5 2468.2 L1437.5 2456.7 L1439.5 2445.0 L1441.5 2433.2 L1443.5 2421.2 L1445.5 2409.1 L1447.5 2396.8 L1449.5 2384.5 L1451.5 2372.0 L1453.5 2359.4 L1455.5 2346.7 L1457.5 2333.9 L1459.5 2321.0 L1461.5 2308.0 L1463.5 2294.9 L1465.5 2281.8 L1467.5 2268.6 L1469.5 2255.4 L1471.5 2242.1 L1473.5 2228.8 L1475.5 2215.4 L1477.5 2202.1 L1479.5 2188.7 L1481.5 2175.4 L1483.5 2162.1 L1485.5 2148.8 L1487.5 2135.6 L1489.5 2122.4 L1491.5 2109.3 L1493.5 2096.2 L1495.5 2083.3 L1497.5 2070.5 L1499.5 2057.8 L1501.5 2045.2 L1503.5 2032.8 L1505.5 2020.5 L1507.5 2008.4 L1509.5 1996.5 L1511.5 1984.8 L1513.5 1973.3 L1515.5 1962.0 L1517.5 1951.0 L1519.5 1940.2 L1521.5 1929.7 L1523.5 1919.4 L1525.5 1909.5 L1527.5 1899.8 L1529.5 1890.5 L1531.5 1881.5 L1533.5 1872.8 L1535.5 1864.5 L1537.5 1856.5 L1539.5 1848.9 L1541.5 1841.7 L1543.5 1834.9 L1545.5 1828.4 L1547.5 1822.4 L1549.5 1816.8 L1551.5 1811.6 L1553.5 1806.9 L1555.5 1802.6 L1557.5 1798.7 L1559.5 1795.3 L1561.5 1792.3 L1563.5 1789.8 L1565.5 1787.8 L1567.5 1786.2 L1569.5 1785.0 L1571.5 1784.4 L1573.5 1784.2 L1575.5 1784.5 L1577.5 1785.2 L1579.5 1786.4 L1581.5 1788.1 L1583.5 1790.3 L1585.5 1792.9 L1587.5 1795.9 L1589.5 1799.5 L1591.5 1803.4 L1593.5 1807.8 L1595.5 1812.6 L1597.5 1817.9 L1599.5 1823.6 L1601.5 1829.7 L1603.5 1836.2 L1605.5 1843.1 L1607.5 1850.4 L1609.5 1858.1 L1611.5 1866.1 L1613.5 1874.5 L1615.5 1883.2 L1617.5 1892.3 L1619.5 1901.7 L1621.5 1911.4 L1623.5 1921.4 L1625.5 1931.7 L1627.5 1942.3 L1629.5 1953.2 L1631.5 1964.2 L1633.5 1975.6 L1635.5 1987.1 L1637.5 1998.9 L1639.5 2010.8 L1641.5 2022.9 L1643.5 2035.2 L1645.5 2047.7 L1647.5 2060.3 L1649.5 2073.0 L1651.5 2085.9 L1653.5 2098.8 L1655.5 2111.9 L1657.5 2125.0 L1659.5 2138.2 L1661.5 2151.5 L1663.5 2164.7 L1665.5 2178.1 L1667.5 2191.4 L1669.5 2204.8 L1671.5 2218.1 L1673.5 2231.4 L1675.5 2244.7 L1677.5 2258.0 L1679.5 2271.2 L1681.5 2284.4 L1683.5 2297.5 L1685.5 2310.6 L1687.5 2323.6 L1689.5 2336.4 L1691.5 2349.2 L1693.5 2361.9 L1695.5 2374.5 L1697.5 2387.0 L1699.5 2399.3 L1701.5 2411.5 L1703.5 2423.6 L1705.5 2435.5 L1707.5 2447.3 L1709.5 2459.0 L1711.5 2470.5 L1713.5 2481.8 L1715.5 2493.0 L1717.5 2504.0 L1719.5 2514.9 L1721.5 2525.6 L1723.5 2536.1 L1725.5 2546.5 L1727.5 2556.6 L1729.5 2566.6 L1731.5 2576.4 L1733.5 2586.1 L1735.5 2595.5 L1737.5 2604.8 L1739.5 2613.9 L1741.5 2622.9 L1743.5 2631.6 L1745.5 2640.1 L1747.5 2648.5 L1749.5 2656.7 L1751.5 2664.7 L1753.5 2672.6 L1755.5 2680.3 L1757.5 2687.7 L1759.5 2695.1 L1761.5 2702.2 L1763.5 2709.2 L1765.5 2716.0 L1767.5 2722.6 L1769.5 2729.1 L1771.5 2735.4 L1773.5 2741.5 L1775.5 2747.5 L1777.5 2753.3 L1779.5 2759.0 L1781.5 2764.5 L1783.5 2769.9 L1785.5 2775.1 L1787.5 2780.1 L1789.5 2785.1 L1791.5 2789.8 L1793.5 2794.5 L1795.5 2799.0 L1797.5 2803.3 L1799.5 2807.6 L1801.5 2811.7 L1803.5 2815.7 L1805.5 2819.5 L1807.5 2823.3 L1809.5 2826.9 L1811.5 2830.4 L1813.5 2833.8 L1815.5 2837.1 L1817.5 2840.2 L1819.5 2843.3 L1821.5 2846.3 L1823.5 2849.1 L1825.5 2851.9 L1827.5 2854.5 L1829.5 2857.1 L1831.5 2859.6 L1833.5 2862.0 L1835.5 2864.3 L1837.5 2866.5 L1839.5 2868.7 L1841.5 2870.7 L1843.5 2872.7 L1845.5 2874.6 L1847.5 2876.5 L1849.5 2878.2 L1851.5 2880.0 L1853.5 2881.6 L1855.5 2883.2 L1857.5 2884.7 L1859.5 2886.1 L1861.5 2887.5 L1863.5 2888.8 L1865.5 2890.1 L1867.5 2891.4 L1869.5 2892.5 L1871.5 2893.7 L1873.5 2894.7 L1875.5 2895.8 L1877.5 2896.8 L1879.5 2897.7 L1881.5 2898.6 L1883.5 2899.5 L1885.5 2900.3 L1887.5 2901.1 L1889.5 2901.9 L1891.5 2902.6 L1893.5 2903.3 L1895.5 2903.9 L1897.5 2904.6 L1899.5 2905.2 L1901.5 2905.7 L1903.5 2906.3 L1905.5 2906.8 L1907.5 2907.3 L1909.5 2907.8 L1911.5 2908.2 L1913.5 2908.6 L1915.5 2909.0 L1917.5 2909.4 L1919.5 2909.8 L1921.5 2910.1 L1923.5 2910.4 L1925.5 2910.8 L1927.5 2911.1 L1929.5 2911.3 L1931.5 2911.6 L1933.5 2911.9 L1935.5 2912.1 L1937.5 2912.3 L1939.5 2912.5 L1941.5 2912.7 L1943.5 2912.9 L1945.5 2913.1 L1947.5 2913.3 L1949.5 2913.5 L1951.5 2913.6 L1953.5 2913.7 L1955.5 2913.9 L1957.5 2914.0 L1959.5 2914.1 L1961.5 2914.3 L1963.5 2914.4 L1965.5 2914.5 L1967.5 2914.6 L1969.5 2914.7 L1971.5 2914.7 L1973.5 2914.8 L1975.5 2914.9 L1977.5 2915.0 L1979.5 2915.0 L1981.5 2915.1 L1983.5 2915.2 L1985.5 2915.2 L1987.5 2915.3 L1989.5 2915.3 L1991.5 2915.4 L1993.5 2915.4 L1995.5 2915.4 L1997.5 2915.5 L1999.5 2915.5 L2001.5 2915.5 L2003.5 2915.6 L2005.5 2915.6 L2007.5 2915.6 L2009.5 2915.7 L2011.5 2915.7 L2013.5 2915.7 L2015.5 2915.7 L2017.5 2915.7 L2019.5 2915.8 L2021.5 2915.8 L2023.5 2915.8 L2025.5 2915.8 L2027.5 2915.8"/>
<path id="c2" d="M293.0 2882.0 L294.5 2878.8 L296.0 2879.0 L297.5 2877.8 L299.0 2878.4 L300.5 2877.0 L302.0 2877.2 L303.5 2876.5 L305.0 2877.0 L306.5 2877.1 L308.0 2876.3 L309.5 2876.8 L311.0 2876.7 L312.5 2878.7 L314.0 2879.8 L315.5 2879.2 L317.0 2879.7 L318.5 2876.8 L320.0 2875.6 L321.5 2874.3 L323.0 2873.0 L324.5 2871.5 L326.0 2869.8 L327.5 2868.3 L329.0 2867.7 L330.5 2866.3 L332.0 2865.8 L333.5 2866.5 L335.0 2869.8 L336.5 2868.8 L338.0 2872.1 L339.5 2875.3 L341.0 2876.9 L342.5 2878.3 L344.0 2880.8 L345.5 2882.9 L347.0 2884.3 L348.5 2883.5 L350.0 2884.3 L351.5 2883.1 L353.0 2882.1 L354.5 2880.5 L356.0 2877.5 L357.5 2874.8 L359.0 2874.2 L360.5 2873.7 L362.0 2872.4 L363.5 2872.3 L365.0 2875.0 L366.5 2875.2 L368.0 2879.0 L369.5 2880.8 L371.0 2883.4 L372.5 2884.7 L374.0 2885.7 L375.5 2883.7 L377.0 2882.8 L378.5 2880.7 L380.0 2880.2 L381.5 2877.8 L383.0 2876.5 L384.5 2873.9 L386.0 2872.9 L387.5 2872.7 L389.0 2871.3 L390.5 2871.2 L392.0 2870.6 L393.5 2869.5 L395.0 2868.3 L396.5 2869.4 L398.0 2868.6 L399.5 2868.8 L401.0 2866.8 L402.5 2867.0 L404.0 2867.0 L405.5 2868.5 L407.0 2870.7 L408.5 2871.4 L410.0 2872.0 L411.5 2872.6 L413.0 2873.0 L414.5 2872.3 L416.0 2872.6 L417.5 2872.3 L419.0 2870.6 L420.5 2871.4 L422.0 2872.1 L423.5 2870.6 L425.0 2870.3 L426.5 2869.6 L428.0 2869.2 L429.5 2869.6 L431.0 2868.3 L432.5 2867.3 L434.0 2865.4 L435.5 2866.2 L437.0 2864.6 L438.5 2863.7 L440.0 2864.3 L441.5 2863.1 L443.0 2860.4 L444.5 2860.7 L446.0 2859.2 L447.5 2857.0 L449.0 2856.4 L450.5 2853.4 L452.0 2851.8 L453.5 2849.3 L455.0 2846.8 L456.5 2845.2 L458.0 2841.1 L459.5 2838.6 L461.0 2836.5 L462.5 2835.2 L464.0 2833.0 L465.5 2832.7 L467.0 2831.8 L468.5 2831.8 L470.0 2832.8 L471.5 2833.7 L473.0 2833.6 L474.5 2834.5 L476.0 2835.3 L477.5 2832.8 L479.0 2831.4 L480.5 2829.8 L482.0 2826.0 L483.5 2823.1 L485.0 2820.2 L486.5 2818.5 L488.0 2816.5 L489.5 2814.5 L491.0 2813.3 L492.5 2812.9 L494.0 2811.5 L495.5 2809.1 L497.0 2808.9 L498.5 2807.9 L500.0 2807.2 L501.5 2805.4 L503.0 2803.8 L504.5 2802.4 L506.0 2799.8 L507.5 2798.9 L509.0 2796.3 L510.5 2794.5 L512.0 2790.9 L513.5 2788.5 L515.0 2785.3 L516.5 2782.3 L518.0 2780.3 L519.5 2776.5 L521.0 2774.0 L522.5 2770.0 L524.0 2767.7 L525.5 2763.7 L527.0 2761.7 L528.5 2759.0 L530.0 2757.1 L531.5 2754.4 L533.0 2751.8 L534.5 2750.1 L536.0 2747.4 L537.5 2745.4 L539.0 2743.2 L540.5 2740.4 L542.0 2737.9 L543.5 2735.9 L545.0 2732.9 L546.5 2730.8 L548.0 2728.5 L549.5 2725.5 L551.0 2721.7 L552.5 2717.8 L554.0 2715.0 L555.5 2711.3 L557.0 2708.2 L558.5 2703.3 L560.0 2699.3 L561.5 2695.6 L563.0 2690.7 L564.5 2686.6 L566.0 2683.5 L567.5 2679.1 L569.0 2674.4 L570.5 2670.1 L572.0 2665.4 L573.5 2662.5 L575.0 2658.6 L576.5 2655.1 L578.0 2651.1 L579.5 2648.0 L581.0 2644.5 L582.5 2641.4 L584.0 2638.8 L585.5 2634.8 L587.0 2630.3 L588.5 2627.5 L590.0 2623.8 L591.5 2621.0 L593.0 2618.4 L594.5 2615.0 L596.0 2611.0 L597.5 2608.0 L599.0 2603.9 L600.5 2599.9 L602.0 2596.2 L603.5 2592.9 L605.0 2590.5 L606.5 2585.1 L608.0 2583.0 L609.5 2579.4 L611.0 2575.0 L612.5 2571.6 L614.0 2567.9 L615.5 2565.0 L617.0 2562.3 L618.5 2559.0 L620.0 2556.9 L621.5 2554.5 L623.0 2551.6 L624.5 2549.4 L626.0 2546.9 L627.5 2545.1 L629.0 2542.1 L630.5 2540.8 L632.0 2538.5 L633.5 2535.5 L635.0 2534.9 L636.5 2530.4 L638.0 2527.6 L639.5 2525.2 L641.0 2520.4 L642.5 2516.7 L644.0 2511.3 L645.5 2506.5 L647.0 2502.0 L648.5 2497.8 L650.0 2494.6 L651.5 2491.4 L653.0 2488.6 L654.5 2485.2 L656.0 2481.5 L657.5 2479.6 L659.0 2475.9 L660.5 2473.2 L662.0 2472.0 L663.5 2469.3 L665.0 2467.0 L666.5 2465.7 L668.0 2464.4 L669.5 2462.0 L671.0 2462.1 L672.5 2461.3 L674.0 2462.1 L675.5 2461.7 L677.0 2463.2 L678.5 2462.9 L680.0 2462.4 L681.5 2463.3 L683.0 2463.0 L684.5 2464.2 L686.0 2465.0 L687.5 2465.3 L689.0 2464.5 L690.5 2465.9 L692.0 2467.0 L693.5 2467.5 L695.0 2468.7 L696.5 2468.0 L698.0 2470.0 L699.5 2470.2 L701.0 2471.6 L702.5 2472.8 L704.0 2474.0 L705.5 2474.4 L707.0 2476.0 L708.5 2476.4 L710.0 2477.6 L711.5 2480.1 L713.0 2481.1 L714.5 2481.5 L716.0 2483.5 L717.5 2485.6 L719.0 2488.4 L720.5 2490.1 L722.0 2492.1 L723.5 2492.9 L725.0 2496.3 L726.5 2499.1 L728.0 2501.7 L729.5 2504.3 L731.0 2506.6 L732.5 2510.6 L734.0 2513.1 L735.5 2514.9 L737.0 2517.1 L738.5 2521.6 L740.0 2522.6 L741.5 2526.3 L743.0 2529.3 L744.5 2530.1 L746.0 2533.5 L747.5 2535.7 L749.0 2538.9 L750.5 2541.5 L752.0 2545.3 L753.5 2547.3 L755.0 2549.8 L756.5 2553.4 L758.0 2555.6 L759.5 2558.7 L761.0 2563.5 L762.5 2565.1 L764.0 2568.9 L765.5 2572.9 L767.0 2576.0 L768.5 2579.3 L770.0 2585.1 L771.5 2587.9 L773.0 2592.0 L774.5 2595.9 L776.0 2599.4 L777.5 2603.1 L779.0 2607.6 L780.5 2612.7 L782.0 2615.6 L783.5 2619.4 L785.0 2621.8 L786.5 2626.5 L788.0 2629.6 L789.5 2634.5 L791.0 2637.7 L792.5 2641.5 L794.0 2645.1 L795.5 2648.4 L797.0 2651.4 L798.5 2656.3 L800.0 2658.7 L801.5 2662.3 L803.0 2666.4 L804.5 2669.7 L806.0 2673.8 L807.5 2677.7 L809.0 2680.7 L810.5 2684.0 L812.0 2687.2 L813.5 2691.0 L815.0 2692.6 L816.5 2697.1 L818.0 2699.4 L819.5 2702.2 L821.0 2705.9 L822.5 2708.5 L824.0 2711.9 L825.5 2715.0 L827.0 2715.7 L828.5 2719.8 L830.0 2723.7 L831.5 2725.7 L833.0 2728.7 L834.5 2730.5 L836.0 2732.3 L837.5 2735.1 L839.0 2738.9 L840.5 2741.8 L842.0 2743.7 L843.5 2746.9 L845.0 2750.3 L846.5 2752.2 L848.0 2756.1 L849.5 2760.5 L851.0 2763.9 L852.5 2765.7 L854.0 2769.9 L855.5 2771.4 L857.0 2774.1 L858.5 2776.0 L860.0 2780.6 L861.5 2782.2 L863.0 2786.1 L864.5 2787.0 L866.0 2788.7 L867.5 2789.1 L869.0 2792.4 L870.5 2792.5 L872.0 2793.6 L873.5 2793.4 L875.0 2796.2 L876.5 2797.2 L878.0 2797.3 L879.5 2798.8 L881.0 2800.2 L882.5 2801.8 L884.0 2802.5 L885.5 2804.9 L887.0 2805.3 L888.5 2806.9 L890.0 2809.5 L891.5 2812.3 L893.0 2817.9 L894.5 2822.9 L896.0 2824.5 L897.5 2825.4 L899.0 2827.4 L900.5 2827.1 L902.0 2829.1 L903.5 2830.5 L905.0 2831.4 L906.5 2831.3 L908.0 2833.2 L909.5 2834.7 L911.0 2834.3 L912.5 2836.0 L914.0 2835.7 L915.5 2836.4 L917.0 2839.0 L918.5 2839.7 L920.0 2840.8 L921.5 2841.4 L923.0 2842.6 L924.5 2844.4 L926.0 2846.1 L927.5 2846.2 L929.0 2846.8 L930.5 2850.1 L932.0 2851.4 L933.5 2853.1 L935.0 2854.5 L936.5 2857.5 L938.0 2857.6 L939.5 2859.3 L941.0 2859.0 L942.5 2860.7 L944.0 2861.2 L945.5 2861.8 L947.0 2862.0 L948.5 2861.2 L950.0 2862.4 L951.5 2860.4 L953.0 2860.3 L954.5 2860.4 L956.0 2859.2 L957.5 2860.0 L959.0 2860.0 L960.5 2859.5 L962.0 2861.5 L963.5 2861.5 L965.0 2862.9 L966.5 2863.6 L968.0 2864.6 L969.5 2866.4 L971.0 2867.5 L972.5 2867.9 L974.0 2868.9 L975.5 2867.2 L977.0 2868.2 L978.5 2868.1 L980.0 2870.6 L981.5 2870.9 L983.0 2873.1 L984.5 2875.3 L986.0 2879.1 L987.5 2880.4 L989.0 2882.3 L990.5 2881.2 L992.0 2882.4 L993.5 2880.6 L995.0 2879.0 L996.5 2877.6 L998.0 2875.1 L999.5 2873.4 L1001.0 2872.0 L1002.5 2869.8 L1004.0 2867.4 L1005.5 2865.6 L1007.0 2863.6 L1008.5 2863.1 L1010.0 2862.4 L1011.5 2861.4 L1013.0 2862.1 L1014.5 2859.7 L1016.0 2860.2 L1017.5 2861.3 L1019.0 2860.6 L1020.5 2861.3 L1022.0 2865.1 L1023.5 2866.6 L1025.0 2867.6 L1026.5 2871.6 L1028.0 2873.5 L1029.5 2876.1 L1031.0 2878.9 L1032.5 2879.8 L1034.0 2879.4 L1035.5 2879.4 L1037.0 2878.2 L1038.5 2877.9 L1040.0 2876.8 L1041.5 2876.1 L1043.0 2874.3 L1044.5 2872.9 L1046.0 2872.2 L1047.5 2872.5 L1049.0 2873.8 L1050.5 2875.2 L1052.0 2877.3 L1053.5 2881.5 L1055.0 2883.3 L1056.5 2886.5 L1058.0 2885.9 L1059.5 2884.9 L1061.0 2881.9 L1062.5 2878.0 L1064.0 2875.3 L1065.5 2872.4 L1067.0 2872.6 L1068.5 2873.7 L1070.0 2876.3 L1071.5 2875.4 L1073.0 2876.2 L1074.5 2876.8 L1076.0 2879.2 L1077.5 2878.5 L1079.0 2879.6 L1080.5 2880.3 L1082.0 2878.3 L1083.5 2878.1 L1085.0 2875.6 L1086.5 2872.5 L1088.0 2871.1 L1089.5 2870.2 L1091.0 2870.3 L1092.5 2871.7 L1094.0 2872.2 L1095.5 2872.4 L1097.0 2872.6 L1098.5 2872.2 L1100.0 2869.5 L1101.5 2862.1 L1103.0 2856.3 L1104.5 2852.7 L1106.0 2852.2 L1107.5 2852.8 L1109.0 2855.5 L1110.5 2859.4 L1112.0 2863.2 L1113.5 2866.1 L1115.0 2871.9 L1116.5 2876.9 L1118.0 2880.7 L1119.5 2881.1 L1121.0 2883.5 L1122.5 2884.1 L1124.0 2886.2 L1125.5 2884.9 L1127.0 2883.9 L1128.5 2882.7 L1130.0 2882.2 L1131.5 2880.4 L1133.0 2877.6 L1134.5 2876.6 L1136.0 2873.8 L1137.5 2872.5 L1139.0 2870.6 L1140.5 2869.3 L1142.0 2868.8 L1143.5 2868.1 L1145.0 2869.2 L1146.5 2870.6 L1148.0 2871.9 L1149.5 2873.6 L1151.0 2876.8 L1152.5 2876.4 L1154.0 2876.6 L1155.5 2877.5 L1157.0 2876.1 L1158.5 2875.0 L1160.0 2873.4 L1161.5 2872.6 L1163.0 2874.5 L1164.5 2877.6 L1166.0 2879.4 L1167.5 2881.4 L1169.0 2881.6 L1170.5 2880.8 L1172.0 2880.1 L1173.5 2877.7 L1175.0 2874.7 L1176.5 2873.5 L1178.0 2873.9 L1179.5 2875.8 L1181.0 2876.7 L1182.5 2879.7 L1184.0 2881.1 L1185.5 2884.2 L1187.0 2887.4 L1188.5 2889.3 L1190.0 2888.7 L1191.5 2888.4 L1193.0 2888.0 L1194.5 2885.3 L1196.0 2882.9 L1197.5 2881.1 L1199.0 2878.8 L1200.5 2877.8 L1202.0 2876.9 L1203.5 2876.1 L1205.0 2876.9 L1206.5 2877.6 L1208.0 2877.6 L1209.5 2878.7 L1211.0 2880.6 L1212.5 2879.7 L1214.0 2881.5 L1215.5 2881.0 L1217.0 2880.2 L1218.5 2879.7 L1220.0 2878.5 L1221.5 2877.9 L1223.0 2876.0 L1224.5 2875.5 L1226.0 2875.5 L1227.5 2877.3 L1229.0 2877.6 L1230.5 2877.4 L1232.0 2878.4 L1233.5 2878.1 L1235.0 2877.3 L1236.5 2875.4 L1238.0 2874.5 L1239.5 2870.3 L1241.0 2871.6 L1242.5 2871.1 L1244.0 2870.4 L1245.5 2870.7 L1247.0 2870.4 L1248.5 2870.7 L1250.0 2871.3 L1251.5 2869.7 L1253.0 2871.4 L1254.5 2870.4 L1256.0 2871.5 L1257.5 2870.9 L1259.0 2871.3 L1260.5 2870.9 L1262.0 2871.2 L1263.5 2870.6 L1265.0 2870.0 L1266.5 2870.9 L1268.0 2870.9 L1269.5 2871.6 L1271.0 2869.1 L1272.5 2869.5 L1274.0 2868.5 L1275.5 2864.7 L1277.0 2862.8 L1278.5 2861.9 L1280.0 2859.7 L1281.5 2856.5 L1283.0 2856.2 L1284.5 2854.4 L1286.0 2852.5 L1287.5 2850.6 L1289.0 2848.9 L1290.5 2846.6 L1292.0 2845.2 L1293.5 2844.4 L1295.0 2842.4 L1296.5 2841.7 L1298.0 2838.7 L1299.5 2835.7 L1301.0 2835.1 L1302.5 2833.6 L1304.0 2831.7 L1305.5 2829.5 L1307.0 2826.8 L1308.5 2826.0 L1310.0 2822.5 L1311.5 2821.0 L1313.0 2818.0 L1314.5 2815.1 L1316.0 2814.2 L1317.5 2809.4 L1319.0 2807.8 L1320.5 2806.1 L1322.0 2803.0 L1323.5 2801.1 L1325.0 2798.1 L1326.5 2795.3 L1328.0 2794.3 L1329.5 2790.3 L1331.0 2787.8 L1332.5 2784.8 L1334.0 2782.5 L1335.5 2781.0 L1337.0 2778.7 L1338.5 2776.1 L1340.0 2773.5 L1341.5 2772.3 L1343.0 2768.7 L1344.5 2767.5 L1346.0 2765.4 L1347.5 2762.9 L1349.0 2761.2 L1350.5 2758.4 L1352.0 2755.8 L1353.5 2754.8 L1355.0 2751.4 L1356.5 2748.8 L1358.0 2745.0 L1359.5 2742.2 L1361.0 2738.4 L1362.5 2734.3 L1364.0 2730.0 L1365.5 2722.9 L1367.0 2717.2 L1368.5 2710.9 L1370.0 2702.5 L1371.5 2697.6 L1373.0 2692.3 L1374.5 2686.9 L1376.0 2680.5 L1377.5 2675.9 L1379.0 2670.4 L1380.5 2663.7 L1382.0 2659.2 L1383.5 2653.7 L1385.0 2647.2 L1386.5 2640.5 L1388.0 2636.0 L1389.5 2628.9 L1391.0 2622.4 L1392.5 2616.2 L1394.0 2609.1 L1395.5 2603.0 L1397.0 2595.4 L1398.5 2587.4 L1400.0 2578.0 L1401.5 2567.5 L1403.0 2557.7 L1404.5 2547.7 L1406.0 2536.0 L1407.5 2526.9 L1409.0 2513.8 L1410.5 2502.5 L1412.0 2492.5 L1413.5 2481.6 L1415.0 2470.9 L1416.5 2461.0 L1418.0 2452.2 L1419.5 2444.1 L1421.0 2436.5 L1422.5 2429.3 L1424.0 2424.2 L1425.5 2420.2 L1427.0 2417.0 L1428.5 2412.2 L1430.0 2411.5 L1431.5 2409.4 L1433.0 2407.3 L1434.5 2404.4 L1436.0 2400.6 L1437.5 2392.0 L1439.0 2378.4 L1440.5 2363.8 L1442.0 2351.8 L1443.5 2339.8 L1445.0 2330.4 L1446.5 2321.7 L1448.0 2311.6 L1449.5 2300.7 L1451.0 2292.5 L1452.5 2282.6 L1454.0 2273.2 L1455.5 2264.5 L1457.0 2254.7 L1458.5 2244.7 L1460.0 2235.9 L1461.5 2226.1 L1463.0 2216.2 L1464.5 2206.7 L1466.0 2196.9 L1467.5 2186.8 L1469.0 2177.0 L1470.5 2167.6 L1472.0 2157.3 L1473.5 2147.5 L1475.0 2139.3 L1476.5 2128.8 L1478.0 2119.2 L1479.5 2109.5 L1481.0 2099.9 L1482.5 2090.3 L1484.0 2080.7 L1485.5 2070.5 L1487.0 2062.0 L1488.5 2051.5 L1490.0 2043.1 L1491.5 2032.0 L1493.0 2023.2 L1494.5 2015.2 L1496.0 2005.4 L1497.5 1996.0 L1499.0 1987.5 L1500.5 1977.5 L1502.0 1968.7 L1503.5 1957.7 L1505.0 1949.2 L1506.5 1939.9 L1508.0 1932.4 L1509.5 1925.3 L1511.0 1917.9 L1512.5 1913.4 L1514.0 1906.4 L1515.5 1899.7 L1517.0 1893.2 L1518.5 1888.5 L1520.0 1879.4 L1521.5 1870.1 L1523.0 1860.8 L1524.5 1851.2 L1526.0 1843.6 L1527.5 1834.3 L1529.0 1828.1 L1530.5 1820.3 L1532.0 1812.8 L1533.5 1808.8 L1535.0 1802.5 L1536.5 1797.2 L1538.0 1793.1 L1539.5 1787.0 L1541.0 1783.0 L1542.5 1777.6 L1544.0 1772.4 L1545.5 1768.4 L1547.0 1762.9 L1548.5 1759.4 L1550.0 1755.0 L1551.5 1750.7 L1553.0 1748.0 L1554.5 1745.6 L1556.0 1743.0 L1557.5 1741.7 L1559.0 1739.1 L1560.5 1737.8 L1562.0 1735.2 L1563.5 1734.3 L1565.0 1733.2 L1566.5 1731.5 L1568.0 1730.9 L1569.5 1730.4 L1571.0 1730.9 L1572.5 1730.5 L1574.0 1732.2 L1575.5 1734.2 L1577.0 1735.2 L1578.5 1735.6 L1580.0 1738.1 L1581.5 1739.8 L1583.0 1740.1 L1584.5 1741.9 L1586.0 1742.6 L1587.5 1743.5 L1589.0 1744.2 L1590.5 1745.2 L1592.0 1746.6 L1593.5 1748.2 L1595.0 1750.1 L1596.5 1751.9 L1598.0 1754.0 L1599.5 1757.4 L1601.0 1761.2 L1602.5 1763.9 L1604.0 1768.7 L1605.5 1773.0 L1607.0 1778.5 L1608.5 1784.3 L1610.0 1790.5 L1611.5 1796.5 L1613.0 1803.4 L1614.5 1808.6 L1616.0 1812.0 L1617.5 1817.0 L1619.0 1820.0 L1620.5 1825.2 L1622.0 1827.3 L1623.5 1830.8 L1625.0 1834.9 L1626.5 1839.0 L1628.0 1844.0 L1629.5 1850.7 L1631.0 1856.7 L1632.5 1864.6 L1634.0 1872.9 L1635.5 1880.5 L1637.0 1892.3 L1638.5 1903.1 L1640.0 1915.0 L1641.5 1925.2 L1643.0 1936.6 L1644.5 1946.3 L1646.0 1955.3 L1647.5 1966.6 L1649.0 1975.2 L1650.5 1984.5 L1652.0 1995.1 L1653.5 2006.0 L1655.0 2016.3 L1656.5 2025.3 L1658.0 2033.8 L1659.5 2040.8 L1661.0 2045.4 L1662.5 2052.3 L1664.0 2059.4 L1665.5 2068.8 L1667.0 2079.3 L1668.5 2089.2 L1670.0 2099.3 L1671.5 2111.2 L1673.0 2123.6 L1674.5 2135.8 L1676.0 2151.3 L1677.5 2167.5 L1679.0 2181.6 L1680.5 2196.9 L1682.0 2207.4 L1683.5 2214.1 L1685.0 2217.5 L1686.5 2220.8 L1688.0 2223.6 L1689.5 2227.0 L1691.0 2230.7 L1692.5 2236.2 L1694.0 2246.3 L1695.5 2258.1 L1697.0 2270.4 L1698.5 2284.0 L1700.0 2297.6 L1701.5 2306.1 L1703.0 2315.9 L1704.5 2324.2 L1706.0 2330.9 L1707.5 2339.2 L1709.0 2348.2 L1710.5 2357.3 L1712.0 2367.5 L1713.5 2378.5 L1715.0 2390.0 L1716.5 2399.7 L1718.0 2410.4 L1719.5 2421.0 L1721.0 2431.5 L1722.5 2444.3 L1724.0 2453.2 L1725.5 2465.4 L1727.0 2477.3 L1728.5 2487.0 L1730.0 2498.9 L1731.5 2509.7 L1733.0 2518.5 L1734.5 2528.8 L1736.0 2537.0 L1737.5 2546.5 L1739.0 2554.1 L1740.5 2561.5 L1742.0 2569.3 L1743.5 2575.7 L1745.0 2583.0 L1746.5 2589.1 L1748.0 2594.4 L1749.5 2601.4 L1751.0 2607.6 L1752.5 2612.3 L1754.0 2619.7 L1755.5 2624.6 L1757.0 2630.3 L1758.5 2634.9 L1760.0 2640.8 L1761.5 2646.1 L1763.0 2650.8 L1764.5 2656.1 L1766.0 2659.7 L1767.5 2666.7 L1769.0 2670.1 L1770.5 2674.3 L1772.0 2679.9 L1773.5 2684.7 L1775.0 2690.3 L1776.5 2694.2 L1778.0 2699.4 L1779.5 2703.0 L1781.0 2709.2 L1782.5 2712.4 L1784.0 2717.4 L1785.5 2719.7 L1787.0 2724.8 L1788.5 2727.9 L1790.0 2733.0 L1791.5 2737.3 L1793.0 2740.2 L1794.5 2745.2 L1796.0 2750.1 L1797.5 2755.1 L1799.0 2760.8 L1800.5 2765.9 L1802.0 2770.7 L1803.5 2776.3 L1805.0 2781.0 L1806.5 2783.7 L1808.0 2787.4 L1809.5 2790.2 L1811.0 2792.0 L1812.5 2793.7 L1814.0 2796.4 L1815.5 2798.1 L1817.0 2799.6 L1818.5 2800.6 L1820.0 2803.3 L1821.5 2804.4 L1823.0 2804.2 L1824.5 2805.4 L1826.0 2807.1 L1827.5 2806.7 L1829.0 2808.2 L1830.5 2808.5 L1832.0 2808.4 L1833.5 2809.0 L1835.0 2808.6 L1836.5 2809.8 L1838.0 2811.0 L1839.5 2816.9 L1841.0 2820.3 L1842.5 2824.0 L1844.0 2826.7 L1845.5 2829.0 L1847.0 2830.2 L1848.5 2830.9 L1850.0 2831.5 L1851.5 2831.0 L1853.0 2832.4 L1854.5 2832.4 L1856.0 2832.7 L1857.5 2833.6 L1859.0 2835.6 L1860.5 2837.1 L1862.0 2836.9 L1863.5 2840.1 L1865.0 2841.4 L1866.5 2841.7 L1868.0 2843.2 L1869.5 2844.9 L1871.0 2847.1 L1872.5 2847.8 L1874.0 2848.8 L1875.5 2851.0 L1877.0 2851.0 L1878.5 2854.0 L1880.0 2856.3 L1881.5 2857.5 L1883.0 2859.4 L1884.5 2860.6 L1886.0 2861.8 L1887.5 2861.9 L1889.0 2861.4 L1890.5 2861.5 L1892.0 2861.2 L1893.5 2861.6 L1895.0 2861.5 L1896.5 2860.6 L1898.0 2860.2 L1899.5 2863.1 L1901.0 2867.9 L1902.5 2873.4 L1904.0 2876.0 L1905.5 2876.3 L1907.0 2875.7 L1908.5 2876.3 L1910.0 2875.4 L1911.5 2874.5 L1913.0 2873.8 L1914.5 2873.9 L1916.0 2871.9 L1917.5 2872.3 L1919.0 2871.3 L1920.5 2869.9 L1922.0 2869.9 L1923.5 2868.9 L1925.0 2868.0 L1926.5 2867.9 L1928.0 2867.1 L1929.5 2867.6 L1931.0 2867.0 L1932.5 2867.1 L1934.0 2867.1 L1935.5 2864.6 L1937.0 2867.7 L1938.5 2868.8 L1940.0 2873.2 L1941.5 2875.9 L1943.0 2879.0 L1944.5 2881.0 L1946.0 2879.1 L1947.5 2880.1 L1949.0 2879.7 L1950.5 2878.3 L1952.0 2879.5 L1953.5 2878.8 L1955.0 2878.2 L1956.5 2877.8 L1958.0 2879.9 L1959.5 2877.7 L1961.0 2877.0 L1962.5 2878.3 L1964.0 2879.7 L1965.5 2880.8 L1967.0 2881.6 L1968.5 2880.9 L1970.0 2880.8 L1971.5 2878.7 L1973.0 2876.7 L1974.5 2876.1 L1976.0 2876.2 L1977.5 2877.0 L1979.0 2877.0 L1980.5 2876.8 L1982.0 2877.4 L1983.5 2877.9 L1985.0 2879.6 L1986.5 2878.6 L1988.0 2879.9 L1989.5 2880.8 L1991.0 2880.5 L1992.5 2882.1 L1994.0 2884.1 L1995.5 2886.3 L1997.0 2889.1 L1998.5 2890.0 L2000.0 2889.6 L2001.5 2888.0 L2003.0 2887.4 L2004.5 2888.0 L2006.0 2885.6 L2007.5 2887.0 L2009.0 2888.5 L2010.5 2889.5 L2012.0 2891.3 L2013.5 2892.1 L2015.0 2892.9 L2016.5 2892.0 L2018.0 2888.6 L2019.5 2886.2 L2021.0 2884.8 L2022.5 2884.6 L2024.0 2884.9 L2025.5 2884.4 L2027.0 2886.0"/>
<path id="c3" d="M261.0 4518.5 L263.0 4518.5 L265.0 4518.5 L267.0 4518.5 L269.0 4518.5 L271.0 4518.5 L273.0 4518.5 L275.0 4518.5 L277.0 4518.5 L279.0 4518.5 L281.0 4518.5 L283.0 4518.5 L285.0 4518.5 L287.0 4518.5 L289.0 4518.5 L291.0 4518.5 L293.0 4518.5 L295.0 4518.5 L297.0 4518.5 L299.0 4518.5 L301.0 4518.5 L303.0 4518.5 L305.0 4518.5 L307.0 4518.5 L309.0 4518.5 L311.0 4518.5 L313.0 4518.5 L315.0 4518.5 L317.0 4518.5 L319.0 4518.5 L321.0 4518.5 L323.0 4518.5 L325.0 4518.5 L327.0 4518.5 L329.0 4518.5 L331.0 4518.5 L333.0 4518.5 L335.0 4518.5 L337.0 4518.5 L339.0 4518.5 L341.0 4518.5 L343.0 4518.5 L345.0 4518.5 L347.0 4518.5 L349.0 4518.5 L351.0 4518.5 L353.0 4518.5 L355.0 4518.5 L357.0 4518.5 L359.0 4518.5 L361.0 4518.5 L363.0 4518.5 L365.0 4518.5 L367.0 4518.5 L369.0 4518.5 L371.0 4518.5 L373.0 4518.5 L375.0 4518.5 L377.0 4518.5 L379.0 4518.5 L381.0 4518.5 L383.0 4518.5 L385.0 4518.5 L387.0 4518.5 L389.0 4518.5 L391.0 4518.5 L393.0 4518.5 L395.0 4518.5 L397.0 4518.5 L399.0 4518.5 L401.0 4518.5 L403.0 4518.5 L405.0 4518.5 L407.0 4518.5 L409.0 4518.5 L411.0 4518.5 L413.0 4518.5 L415.0 4518.5 L417.0 4518.5 L419.0 4518.5 L421.0 4518.5 L423.0 4518.5 L425.0 4518.5 L427.0 4518.5 L429.0 4518.5 L431.0 4518.5 L433.0 4518.5 L435.0 4518.5 L437.0 4518.5 L439.0 4518.5 L441.0 4518.5 L443.0 4518.5 L445.0 4518.5 L447.0 4518.5 L449.0 4518.5 L451.0 4518.5 L453.0 4518.5 L455.0 4518.5 L457.0 4518.5 L459.0 4518.5 L461.0 4518.5 L463.0 4518.5 L465.0 4518.5 L467.0 4518.5 L469.0 4518.5 L471.0 4518.5 L473.0 4518.5 L475.0 4518.5 L477.0 4518.5 L479.0 4518.5 L481.0 4518.5 L483.0 4518.5 L485.0 4518.5 L487.0 4518.5 L489.0 4518.5 L491.0 4518.5 L493.0 4518.5 L495.0 4518.5 L497.0 4518.5 L499.0 4518.5 L501.0 4518.5 L503.0 4518.5 L505.0 4518.5 L507.0 4518.5 L509.0 4518.5 L511.0 4518.5 L513.0 4518.5 L515.0 4518.5 L517.0 4518.5 L519.0 4518.5 L521.0 4518.5 L523.0 4518.5 L525.0 4518.5 L527.0 4518.5 L529.0 4518.5 L531.0 4518.5 L533.0 4518.5 L535.0 4518.5 L537.0 4518.5 L539.0 4518.5 L541.0 4518.5 L543.0 4518.5 L545.0 4518.5 L547.0 4518.5 L549.0 4518.5 L551.0 4518.5 L553.0 4518.5 L555.0 4518.5 L557.0 4518.5 L559.0 4518.5 L561.0 4518.5 L563.0 4518.5 L565.0 4518.5 L567.0 4518.5 L569.0 4518.5 L571.0 4518.5 L573.0 4518.5 L575.0 4518.5 L577.0 4518.5 L579.0 4518.5 L581.0 4518.5 L583.0 4518.5 L585.0 4518.5 L587.0 4518.5 L589.0 4518.5 L591.0 4518.5 L593.0 4518.5 L595.0 4518.5 L597.0 4518.5 L599.0 4518.5 L601.0 4518.5 L603.0 4518.5 L605.0 4518.5 L607.0 4518.5 L609.0 4518.5 L611.0 4518.5 L613.0 4518.5 L615.0 4518.5 L617.0 4518.5 L619.0 4518.5 L621.0 4518.5 L623.0 4518.5 L625.0 4518.5 L627.0 4518.5 L629.0 4518.5 L631.0 4518.5 L633.0 4518.5 L635.0 4518.5 L637.0 4518.5 L639.0 4518.5 L641.0 4518.5 L643.0 4518.5 L645.0 4518.5 L647.0 4518.5 L649.0 4518.5 L651.0 4518.5 L653.0 4518.5 L655.0 4518.5 L657.0 4518.5 L659.0 4518.5 L661.0 4518.5 L663.0 4518.5 L665.0 4518.5 L667.0 4518.5 L669.0 4518.5 L671.0 4518.5 L673.0 4518.5 L675.0 4518.5 L677.0 4518.5 L679.0 4518.5 L681.0 4518.5 L683.0 4518.5 L685.0 4518.5 L687.0 4518.5 L689.0 4518.5 L691.0 4518.5 L693.0 4518.5 L695.0 4518.5 L697.0 4518.5 L699.0 4518.5 L701.0 4518.5 L703.0 4518.5 L705.0 4518.5 L707.0 4518.5 L709.0 4518.5 L711.0 4518.5 L713.0 4518.5 L715.0 4518.5 L717.0 4518.5 L719.0 4518.5 L721.0 4518.5 L723.0 4518.5 L725.0 4518.5 L727.0 4518.5 L729.0 4518.5 L731.0 4518.5 L733.0 4518.5 L735.0 4518.5 L737.0 4518.5 L739.0 4518.5 L741.0 4518.5 L743.0 4518.4 L745.0 4518.4 L747.0 4518.4 L749.0 4518.4 L751.0 4518.4 L753.0 4518.4 L755.0 4518.4 L757.0 4518.4 L759.0 4518.4 L761.0 4518.4 L763.0 4518.4 L765.0 4518.4 L767.0 4518.4 L769.0 4518.4 L771.0 4518.4 L773.0 4518.4 L775.0 4518.4 L777.0 4518.4 L779.0 4518.3 L781.0 4518.3 L783.0 4518.3 L785.0 4518.3 L787.0 4518.3 L789.0 4518.3 L791.0 4518.3 L793.0 4518.3 L795.0 4518.2 L797.0 4518.2 L799.0 4518.2 L801.0 4518.2 L803.0 4518.2 L805.0 4518.2 L807.0 4518.1 L809.0 4518.1 L811.0 4518.1 L813.0 4518.1 L815.0 4518.1 L817.0 4518.0 L819.0 4518.0 L821.0 4518.0 L823.0 4517.9 L825.0 4517.9 L827.0 4517.9 L829.0 4517.9 L831.0 4517.8 L833.0 4517.8 L835.0 4517.7 L837.0 4517.7 L839.0 4517.7 L841.0 4517.6 L843.0 4517.6 L845.0 4517.5 L847.0 4517.5 L849.0 4517.4 L851.0 4517.3 L853.0 4517.3 L855.0 4517.2 L857.0 4517.2 L859.0 4517.1 L861.0 4517.0 L863.0 4516.9 L865.0 4516.9 L867.0 4516.8 L869.0 4516.7 L871.0 4516.6 L873.0 4516.5 L875.0 4516.4 L877.0 4516.3 L879.0 4516.2 L881.0 4516.1 L883.0 4515.9 L885.0 4515.8 L887.0 4515.7 L889.0 4515.5 L891.0 4515.4 L893.0 4515.2 L895.0 4515.1 L897.0 4514.9 L899.0 4514.8 L901.0 4514.6 L903.0 4514.4 L905.0 4514.2 L907.0 4514.0 L909.0 4513.8 L911.0 4513.6 L913.0 4513.3 L915.0 4513.1 L917.0 4512.9 L919.0 4512.6 L921.0 4512.3 L923.0 4512.0 L925.0 4511.8 L927.0 4511.5 L929.0 4511.1 L931.0 4510.8 L933.0 4510.5 L935.0 4510.1 L937.0 4509.7 L939.0 4509.4 L941.0 4509.0 L943.0 4508.6 L945.0 4508.1 L947.0 4507.7 L949.0 4507.2 L951.0 4506.7 L953.0 4506.2 L955.0 4505.7 L957.0 4505.2 L959.0 4504.6 L961.0 4504.1 L963.0 4503.5 L965.0 4502.8 L967.0 4502.2 L969.0 4501.5 L971.0 4500.8 L973.0 4500.1 L975.0 4499.4 L977.0 4498.6 L979.0 4497.8 L981.0 4497.0 L983.0 4496.2 L985.0 4495.3 L987.0 4494.4 L989.0 4493.5 L991.0 4492.5 L993.0 4491.5 L995.0 4490.5 L997.0 4489.4 L999.0 4488.3 L1001.0 4487.1 L1003.0 4486.0 L1005.0 4484.8 L1007.0 4483.5 L1009.0 4482.2 L1011.0 4480.9 L1013.0 4479.5 L1015.0 4478.1 L1017.0 4476.6 L1019.0 4475.1 L1021.0 4473.5 L1023.0 4471.9 L1025.0 4470.3 L1027.0 4468.6 L1029.0 4466.8 L1031.0 4465.0 L1033.0 4463.1 L1035.0 4461.2 L1037.0 4459.3 L1039.0 4457.2 L1041.0 4455.1 L1043.0 4453.0 L1045.0 4450.8 L1047.0 4448.5 L1049.0 4446.2 L1051.0 4443.8 L1053.0 4441.3 L1055.0 4438.8 L1057.0 4436.2 L1059.0 4433.5 L1061.0 4430.8 L1063.0 4428.0 L1065.0 4425.1 L1067.0 4422.1 L1069.0 4419.1 L1071.0 4416.0 L1073.0 4412.8 L1075.0 4409.5 L1077.0 4406.1 L1079.0 4402.7 L1081.0 4399.2 L1083.0 4395.6 L1085.0 4391.9 L1087.0 4388.1 L1089.0 4384.2 L1091.0 4380.3 L1093.0 4376.2 L1095.0 4372.1 L1097.0 4367.8 L1099.0 4363.5 L1101.0 4359.1 L1103.0 4354.5 L1105.0 4349.9 L1107.0 4345.2 L1109.0 4340.4 L1111.0 4335.5 L1113.0 4330.5 L1115.0 4325.3 L1117.0 4320.1 L1119.0 4314.8 L1121.0 4309.4 L1123.0 4303.8 L1125.0 4298.2 L1127.0 4292.5 L1129.0 4286.6 L1131.0 4280.7 L1133.0 4274.6 L1135.0 4268.5 L1137.0 4262.2 L1139.0 4255.8 L1141.0 4249.4 L1143.0 4242.8 L1145.0 4236.1 L1147.0 4229.3 L1149.0 4222.4 L1151.0 4215.4 L1153.0 4208.4 L1155.0 4201.2 L1157.0 4193.9 L1159.0 4186.5 L1161.0 4179.0 L1163.0 4171.4 L1165.0 4163.8 L1167.0 4156.0 L1169.0 4148.1 L1171.0 4140.2 L1173.0 4132.2 L1175.0 4124.1 L1177.0 4115.9 L1179.0 4107.6 L1181.0 4099.2 L1183.0 4090.8 L1185.0 4082.3 L1187.0 4073.7 L1189.0 4065.1 L1191.0 4056.4 L1193.0 4047.6 L1195.0 4038.8 L1197.0 4029.9 L1199.0 4021.0 L1201.0 4012.0 L1203.0 4003.0 L1205.0 3994.0 L1207.0 3984.9 L1209.0 3975.8 L1211.0 3966.6 L1213.0 3957.5 L1215.0 3948.3 L1217.0 3939.1 L1219.0 3929.9 L1221.0 3920.8 L1223.0 3911.6 L1225.0 3902.4 L1227.0 3893.2 L1229.0 3884.1 L1231.0 3875.0 L1233.0 3865.9 L1235.0 3856.9 L1237.0 3847.9 L1239.0 3838.9 L1241.0 3830.0 L1243.0 3821.2 L1245.0 3812.4 L1247.0 3803.7 L1249.0 3795.1 L1251.0 3786.5 L1253.0 3778.1 L1255.0 3769.7 L1257.0 3761.5 L1259.0 3753.3 L1261.0 3745.3 L1263.0 3737.4 L1265.0 3729.6 L1267.0 3722.0 L1269.0 3714.4 L1271.0 3707.1 L1273.0 3699.9 L1275.0 3692.8 L1277.0 3685.9 L1279.0 3679.1 L1281.0 3672.6 L1283.0 3666.2 L1285.0 3660.0 L1287.0 3653.9 L1289.0 3648.1 L1291.0 3642.5 L1293.0 3637.0 L1295.0 3631.8 L1297.0 3626.8 L1299.0 3622.0 L1301.0 3617.4 L1303.0 3613.0 L1305.0 3608.9 L1307.0 3605.0 L1309.0 3601.3 L1311.0 3597.9 L1313.0 3594.7 L1315.0 3591.8 L1317.0 3589.1 L1319.0 3586.6 L1321.0 3584.4 L1323.0 3582.4 L1325.0 3580.8 L1327.0 3579.3 L1329.0 3578.1 L1331.0 3577.2 L1333.0 3576.5 L1335.0 3576.1 L1337.0 3576.0 L1339.0 3576.1 L1341.0 3576.5 L1343.0 3577.1 L1345.0 3578.0 L1347.0 3579.1 L1349.0 3580.5 L1351.0 3582.2 L1353.0 3584.1 L1355.0 3586.3 L1357.0 3588.7 L1359.0 3591.3 L1361.0 3594.2 L1363.0 3597.4 L1365.0 3600.8 L1367.0 3604.4 L1369.0 3608.3 L1371.0 3612.4 L1373.0 3616.7 L1375.0 3621.3 L1377.0 3626.0 L1379.0 3631.0 L1381.0 3636.2 L1383.0 3641.6 L1385.0 3647.2 L1387.0 3653.0 L1389.0 3659.0 L1391.0 3665.2 L1393.0 3671.6 L1395.0 3678.1 L1397.0 3684.9 L1399.0 3691.7 L1401.0 3698.8 L1403.0 3706.0 L1405.0 3713.3 L1407.0 3720.8 L1409.0 3728.5 L1411.0 3736.2 L1413.0 3744.1 L1415.0 3752.1 L1417.0 3760.3 L1419.0 3768.5 L1421.0 3776.8 L1423.0 3785.3 L1425.0 3793.8 L1427.0 3802.4 L1429.0 3811.1 L1431.0 3819.9 L1433.0 3828.7 L1435.0 3837.6 L1437.0 3846.5 L1439.0 3855.5 L1441.0 3864.6 L1443.0 3873.6 L1445.0 3882.7 L1447.0 3891.9 L1449.0 3901.0 L1451.0 3910.2 L1453.0 3919.4 L1455.0 3928.6 L1457.0 3937.8 L1459.0 3946.9 L1461.0 3956.1 L1463.0 3965.3 L1465.0 3974.4 L1467.0 3983.5 L1469.0 3992.6 L1471.0 4001.7 L1473.0 4010.7 L1475.0 4019.6 L1477.0 4028.6 L1479.0 4037.5 L1481.0 4046.3 L1483.0 4055.1 L1485.0 4063.8 L1487.0 4072.4 L1489.0 4081.0 L1491.0 4089.5 L1493.0 4098.0 L1495.0 4106.3 L1497.0 4114.6 L1499.0 4122.8 L1501.0 4131.0 L1503.0 4139.0 L1505.0 4147.0 L1507.0 4154.8 L1509.0 4162.6 L1511.0 4170.3 L1513.0 4177.9 L1515.0 4185.4 L1517.0 4192.8 L1519.0 4200.1 L1521.0 4207.3 L1523.0 4214.4 L1525.0 4221.4 L1527.0 4228.3 L1529.0 4235.1 L1531.0 4241.8 L1533.0 4248.4 L1535.0 4254.9 L1537.0 4261.2 L1539.0 4267.5 L1541.0 4273.7 L1543.0 4279.8 L1545.0 4285.7 L1547.0 4291.6 L1549.0 4297.3 L1551.0 4303.0 L1553.0 4308.5 L1555.0 4314.0 L1557.0 4319.3 L1559.0 4324.6 L1561.0 4329.7 L1563.0 4334.7 L1565.0 4339.7 L1567.0 4344.5 L1569.0 4349.2 L1571.0 4353.9 L1573.0 4358.4 L1575.0 4362.8 L1577.0 4367.2 L1579.0 4371.4 L1581.0 4375.6 L1583.0 4379.7 L1585.0 4383.6 L1587.0 4387.5 L1589.0 4391.3 L1591.0 4395.0 L1593.0 4398.6 L1595.0 4402.2 L1597.0 4405.6 L1599.0 4409.0 L1601.0 4412.3 L1603.0 4415.5 L1605.0 4418.6 L1607.0 4421.7 L1609.0 4424.6 L1611.0 4427.5 L1613.0 4430.4 L1615.0 4433.1 L1617.0 4435.8 L1619.0 4438.4 L1621.0 4440.9 L1623.0 4443.4 L1625.0 4445.8 L1627.0 4448.2 L1629.0 4450.5 L1631.0 4452.7 L1633.0 4454.8 L1635.0 4456.9 L1637.0 4459.0 L1639.0 4460.9 L1641.0 4462.9 L1643.0 4464.7 L1645.0 4466.5 L1647.0 4468.3 L1649.0 4470.0 L1651.0 4471.7 L1653.0 4473.3 L1655.0 4474.9 L1657.0 4476.4 L1659.0 4477.9 L1661.0 4479.3 L1663.0 4480.7 L1665.0 4482.0 L1667.0 4483.3 L1669.0 4484.6 L1671.0 4485.8 L1673.0 4487.0 L1675.0 4488.1 L1677.0 4489.2 L1679.0 4490.3 L1681.0 4491.3 L1683.0 4492.3 L1685.0 4493.3 L1687.0 4494.3 L1689.0 4495.2 L1691.0 4496.0 L1693.0 4496.9 L1695.0 4497.7 L1697.0 4498.5 L1699.0 4499.3 L1701.0 4500.0 L1703.0 4500.7 L1705.0 4501.4 L1707.0 4502.1 L1709.0 4502.7 L1711.0 4503.4 L1713.0 4504.0 L1715.0 4504.5 L1717.0 4505.1 L1719.0 4505.6 L1721.0 4506.2 L1723.0 4506.7 L1725.0 4507.1 L1727.0 4507.6 L1729.0 4508.1 L1731.0 4508.5 L1733.0 4508.9 L1735.0 4509.3 L1737.0 4509.7 L1739.0 4510.1 L1741.0 4510.4 L1743.0 4510.8 L1745.0 4511.1 L1747.0 4511.4 L1749.0 4511.7 L1751.0 4512.0 L1753.0 4512.3 L1755.0 4512.6 L1757.0 4512.8 L1759.0 4513.1 L1761.0 4513.3 L1763.0 4513.5 L1765.0 4513.8 L1767.0 4514.0 L1769.0 4514.2 L1771.0 4514.4 L1773.0 4514.6 L1775.0 4514.7 L1777.0 4514.9 L1779.0 4515.1 L1781.0 4515.2 L1783.0 4515.4 L1785.0 4515.5 L1787.0 4515.7 L1789.0 4515.8 L1791.0 4515.9 L1793.0 4516.0 L1795.0 4516.2 L1797.0 4516.3 L1799.0 4516.4 L1801.0 4516.5 L1803.0 4516.6 L1805.0 4516.7 L1807.0 4516.8 L1809.0 4516.8 L1811.0 4516.9 L1813.0 4517.0 L1815.0 4517.1 L1817.0 4517.1 L1819.0 4517.2 L1821.0 4517.3 L1823.0 4517.3 L1825.0 4517.4 L1827.0 4517.5 L1829.0 4517.5 L1831.0 4517.6 L1833.0 4517.6 L1835.0 4517.6 L1837.0 4517.7 L1839.0 4517.7 L1841.0 4517.8 L1843.0 4517.8 L1845.0 4517.8 L1847.0 4517.9 L1849.0 4517.9 L1851.0 4517.9 L1853.0 4518.0 L1855.0 4518.0 L1857.0 4518.0 L1859.0 4518.1 L1861.0 4518.1 L1863.0 4518.1 L1865.0 4518.1 L1867.0 4518.1 L1869.0 4518.2 L1871.0 4518.2 L1873.0 4518.2 L1875.0 4518.2 L1877.0 4518.2 L1879.0 4518.2 L1881.0 4518.3 L1883.0 4518.3 L1885.0 4518.3 L1887.0 4518.3 L1889.0 4518.3 L1891.0 4518.3 L1893.0 4518.3 L1895.0 4518.3 L1897.0 4518.3 L1899.0 4518.4 L1901.0 4518.4 L1903.0 4518.4 L1905.0 4518.4 L1907.0 4518.4 L1909.0 4518.4 L1911.0 4518.4 L1913.0 4518.4 L1915.0 4518.4 L1917.0 4518.4 L1919.0 4518.4 L1921.0 4518.4"/>
<path id="c4" d="M261.0 4518.5 L263.0 4518.5 L265.0 4518.5 L267.0 4518.5 L269.0 4518.5 L271.0 4518.5 L273.0 4518.5 L275.0 4518.5 L277.0 4518.5 L279.0 4518.5 L281.0 4518.5 L283.0 4518.5 L285.0 4518.5 L287.0 4518.5 L289.0 4518.5 L291.0 4518.5 L293.0 4518.5 L295.0 4518.5 L297.0 4518.5 L299.0 4518.5 L301.0 4518.5 L303.0 4518.5 L305.0 4518.5 L307.0 4518.5 L309.0 4518.5 L311.0 4518.5 L313.0 4518.5 L315.0 4518.5 L317.0 4518.5 L319.0 4518.5 L321.0 4518.5 L323.0 4518.5 L325.0 4518.5 L327.0 4518.5 L329.0 4518.5 L331.0 4518.5 L333.0 4518.5 L335.0 4518.5 L337.0 4518.5 L339.0 4518.5 L341.0 4518.5 L343.0 4518.5 L345.0 4518.5 L347.0 4518.5 L349.0 4518.5 L351.0 4518.5 L353.0 4518.5 L355.0 4518.5 L357.0 4518.5 L359.0 4518.5 L361.0 4518.5 L363.0 4518.5 L365.0 4518.5 L367.0 4518.5 L369.0 4518.5 L371.0 4518.5 L373.0 4518.5 L375.0 4518.5 L377.0 4518.5 L379.0 4518.5 L381.0 4518.5 L383.0 4518.5 L385.0 4518.5 L387.0 4518.5 L389.0 4518.5 L391.0 4518.5 L393.0 4518.5 L395.0 4518.5 L397.0 4518.5 L399.0 4518.5 L401.0 4518.5 L403.0 4518.5 L405.0 4518.5 L407.0 4518.5 L409.0 4518.5 L411.0 4518.5 L413.0 4518.5 L415.0 4518.5 L417.0 4518.5 L419.0 4518.5 L421.0 4518.5 L423.0 4518.5 L425.0 4518.5 L427.0 4518.5 L429.0 4518.5 L431.0 4518.5 L433.0 4518.5 L435.0 4518.5 L437.0 4518.5 L439.0 4518.5 L441.0 4518.5 L443.0 4518.5 L445.0 4518.5 L447.0 4518.5 L449.0 4518.5 L451.0 4518.5 L453.0 4518.5 L455.0 4518.5 L457.0 4518.5 L459.0 4518.5 L461.0 4518.5 L463.0 4518.5 L465.0 4518.5 L467.0 4518.5 L469.0 4518.5 L471.0 4518.5 L473.0 4518.5 L475.0 4518.5 L477.0 4518.5 L479.0 4518.5 L481.0 4518.5 L483.0 4518.5 L485.0 4518.5 L487.0 4518.5 L489.0 4518.5 L491.0 4518.5 L493.0 4518.5 L495.0 4518.5 L497.0 4518.5 L499.0 4518.5 L501.0 4518.5 L503.0 4518.5 L505.0 4518.5 L507.0 4518.5 L509.0 4518.5 L511.0 4518.5 L513.0 4518.5 L515.0 4518.5 L517.0 4518.5 L519.0 4518.5 L521.0 4518.5 L523.0 4518.5 L525.0 4518.5 L527.0 4518.5 L529.0 4518.5 L531.0 4518.5 L533.0 4518.5 L535.0 4518.5 L537.0 4518.5 L539.0 4518.5 L541.0 4518.5 L543.0 4518.5 L545.0 4518.5 L547.0 4518.5 L549.0 4518.5 L551.0 4518.5 L553.0 4518.5 L555.0 4518.5 L557.0 4518.5 L559.0 4518.5 L561.0 4518.5 L563.0 4518.5 L565.0 4518.5 L567.0 4518.5 L569.0 4518.5 L571.0 4518.5 L573.0 4518.5 L575.0 4518.4 L577.0 4518.4 L579.0 4518.4 L581.0 4518.4 L583.0 4518.4 L585.0 4518.4 L587.0 4518.4 L589.0 4518.4 L591.0 4518.4 L593.0 4518.4 L595.0 4518.4 L597.0 4518.4 L599.0 4518.4 L601.0 4518.4 L603.0 4518.4 L605.0 4518.4 L607.0 4518.3 L609.0 4518.3 L611.0 4518.3 L613.0 4518.3 L615.0 4518.3 L617.0 4518.3 L619.0 4518.3 L621.0 4518.2 L623.0 4518.2 L625.0 4518.2 L627.0 4518.2 L629.0 4518.2 L631.0 4518.2 L633.0 4518.1 L635.0 4518.1 L637.0 4518.1 L639.0 4518.1 L641.0 4518.0 L643.0 4518.0 L645.0 4518.0 L647.0 4517.9 L649.0 4517.9 L651.0 4517.9 L653.0 4517.8 L655.0 4517.8 L657.0 4517.7 L659.0 4517.7 L661.0 4517.6 L663.0 4517.6 L665.0 4517.5 L667.0 4517.5 L669.0 4517.4 L671.0 4517.3 L673.0 4517.3 L675.0 4517.2 L677.0 4517.1 L679.0 4517.0 L681.0 4516.9 L683.0 4516.8 L685.0 4516.7 L687.0 4516.6 L689.0 4516.5 L691.0 4516.4 L693.0 4516.3 L695.0 4516.2 L697.0 4516.0 L699.0 4515.9 L701.0 4515.8 L703.0 4515.6 L705.0 4515.4 L707.0 4515.3 L709.0 4515.1 L711.0 4514.9 L713.0 4514.7 L715.0 4514.5 L717.0 4514.3 L719.0 4514.1 L721.0 4513.8 L723.0 4513.6 L725.0 4513.3 L727.0 4513.1 L729.0 4512.8 L731.0 4512.5 L733.0 4512.2 L735.0 4511.8 L737.0 4511.5 L739.0 4511.2 L741.0 4510.8 L743.0 4510.4 L745.0 4510.0 L747.0 4509.6 L749.0 4509.1 L751.0 4508.7 L753.0 4508.2 L755.0 4507.7 L757.0 4507.2 L759.0 4506.7 L761.0 4506.1 L763.0 4505.5 L765.0 4504.9 L767.0 4504.3 L769.0 4503.6 L771.0 4502.9 L773.0 4502.2 L775.0 4501.5 L777.0 4500.7 L779.0 4499.9 L781.0 4499.1 L783.0 4498.3 L785.0 4497.4 L787.0 4496.4 L789.0 4495.5 L791.0 4494.5 L793.0 4493.5 L795.0 4492.4 L797.0 4491.3 L799.0 4490.2 L801.0 4489.0 L803.0 4487.8 L805.0 4486.5 L807.0 4485.2 L809.0 4483.9 L811.0 4482.5 L813.0 4481.0 L815.0 4479.6 L817.0 4478.0 L819.0 4476.5 L821.0 4474.8 L823.0 4473.1 L825.0 4471.4 L827.0 4469.6 L829.0 4467.8 L831.0 4465.9 L833.0 4464.0 L835.0 4462.0 L837.0 4459.9 L839.0 4457.8 L841.0 4455.6 L843.0 4453.3 L845.0 4451.0 L847.0 4448.7 L849.0 4446.3 L851.0 4443.8 L853.0 4441.2 L855.0 4438.6 L857.0 4435.9 L859.0 4433.1 L861.0 4430.3 L863.0 4427.4 L865.0 4424.5 L867.0 4421.4 L869.0 4418.3 L871.0 4415.1 L873.0 4411.9 L875.0 4408.6 L877.0 4405.2 L879.0 4401.7 L881.0 4398.2 L883.0 4394.5 L885.0 4390.8 L887.0 4387.1 L889.0 4383.2 L891.0 4379.3 L893.0 4375.3 L895.0 4371.2 L897.0 4367.1 L899.0 4362.9 L901.0 4358.6 L903.0 4354.2 L905.0 4349.7 L907.0 4345.2 L909.0 4340.6 L911.0 4335.9 L913.0 4331.2 L915.0 4326.3 L917.0 4321.4 L919.0 4316.4 L921.0 4311.4 L923.0 4306.3 L925.0 4301.1 L927.0 4295.8 L929.0 4290.4 L931.0 4285.0 L933.0 4279.5 L935.0 4274.0 L937.0 4268.4 L939.0 4262.7 L941.0 4257.0 L943.0 4251.1 L945.0 4245.3 L947.0 4239.3 L949.0 4233.4 L951.0 4227.3 L953.0 4221.2 L955.0 4215.0 L957.0 4208.8 L959.0 4202.6 L961.0 4196.3 L963.0 4189.9 L965.0 4183.5 L967.0 4177.1 L969.0 4170.6 L971.0 4164.1 L973.0 4157.5 L975.0 4151.0 L977.0 4144.4 L979.0 4137.7 L981.0 4131.1 L983.0 4124.4 L985.0 4117.7 L987.0 4111.0 L989.0 4104.3 L991.0 4097.6 L993.0 4090.9 L995.0 4084.2 L997.0 4077.5 L999.0 4070.8 L1001.0 4064.1 L1003.0 4057.5 L1005.0 4050.9 L1007.0 4044.3 L1009.0 4037.7 L1011.0 4031.2 L1013.0 4024.7 L1015.0 4018.3 L1017.0 4011.9 L1019.0 4005.6 L1021.0 3999.4 L1023.0 3993.2 L1025.0 3987.1 L1027.0 3981.1 L1029.0 3975.2 L1031.0 3969.3 L1033.0 3963.6 L1035.0 3958.0 L1037.0 3952.5 L1039.0 3947.1 L1041.0 3941.8 L1043.0 3936.6 L1045.0 3931.6 L1047.0 3926.7 L1049.0 3922.0 L1051.0 3917.4 L1053.0 3913.0 L1055.0 3908.7 L1057.0 3904.6 L1059.0 3900.7 L1061.0 3896.9 L1063.0 3893.4 L1065.0 3890.0 L1067.0 3886.8 L1069.0 3883.8 L1071.0 3880.9 L1073.0 3878.3 L1075.0 3875.9 L1077.0 3873.7 L1079.0 3871.8 L1081.0 3870.0 L1083.0 3868.4 L1085.0 3867.1 L1087.0 3866.0 L1089.0 3865.1 L1091.0 3864.4 L1093.0 3863.9 L1095.0 3863.7 L1097.0 3863.7 L1099.0 3863.9 L1101.0 3864.4 L1103.0 3865.0 L1105.0 3865.9 L1107.0 3867.0 L1109.0 3868.3 L1111.0 3869.9 L1113.0 3871.7 L1115.0 3873.6 L1117.0 3875.8 L1119.0 3878.2 L1121.0 3880.8 L1123.0 3883.6 L1125.0 3886.6 L1127.0 3889.8 L1129.0 3893.2 L1131.0 3896.7 L1133.0 3900.5 L1135.0 3904.4 L1137.0 3908.5 L1139.0 3912.8 L1141.0 3917.2 L1143.0 3921.8 L1145.0 3926.5 L1147.0 3931.4 L1149.0 3936.4 L1151.0 3941.5 L1153.0 3946.8 L1155.0 3952.2 L1157.0 3957.7 L1159.0 3963.3 L1161.0 3969.0 L1163.0 3974.9 L1165.0 3980.8 L1167.0 3986.8 L1169.0 3992.9 L1171.0 3999.1 L1173.0 4005.3 L1175.0 4011.6 L1177.0 4018.0 L1179.0 4024.4 L1181.0 4030.9 L1183.0 4037.4 L1185.0 4043.9 L1187.0 4050.5 L1189.0 4057.2 L1191.0 4063.8 L1193.0 4070.5 L1195.0 4077.2 L1197.0 4083.9 L1199.0 4090.6 L1201.0 4097.3 L1203.0 4104.0 L1205.0 4110.7 L1207.0 4117.4 L1209.0 4124.1 L1211.0 4130.7 L1213.0 4137.4 L1215.0 4144.0 L1217.0 4150.6 L1219.0 4157.2 L1221.0 4163.8 L1223.0 4170.3 L1225.0 4176.8 L1227.0 4183.2 L1229.0 4189.6 L1231.0 4195.9 L1233.0 4202.3 L1235.0 4208.5 L1237.0 4214.7 L1239.0 4220.9 L1241.0 4227.0 L1243.0 4233.1 L1245.0 4239.0 L1247.0 4245.0 L1249.0 4250.9 L1251.0 4256.7 L1253.0 4262.4 L1255.0 4268.1 L1257.0 4273.7 L1259.0 4279.3 L1261.0 4284.8 L1263.0 4290.2 L1265.0 4295.5 L1267.0 4300.8 L1269.0 4306.0 L1271.0 4311.1 L1273.0 4316.2 L1275.0 4321.2 L1277.0 4326.1 L1279.0 4330.9 L1281.0 4335.7 L1283.0 4340.4 L1285.0 4345.0 L1287.0 4349.5 L1289.0 4354.0 L1291.0 4358.3 L1293.0 4362.7 L1295.0 4366.9 L1297.0 4371.0 L1299.0 4375.1 L1301.0 4379.1 L1303.0 4383.0 L1305.0 4386.9 L1307.0 4390.7 L1309.0 4394.4 L1311.0 4398.0 L1313.0 4401.5 L1315.0 4405.0 L1317.0 4408.4 L1319.0 4411.7 L1321.0 4415.0 L1323.0 4418.2 L1325.0 4421.3 L1327.0 4424.3 L1329.0 4427.3 L1331.0 4430.2 L1333.0 4433.0 L1335.0 4435.8 L1337.0 4438.4 L1339.0 4441.1 L1341.0 4443.6 L1343.0 4446.1 L1345.0 4448.6 L1347.0 4450.9 L1349.0 4453.2 L1351.0 4455.5 L1353.0 4457.7 L1355.0 4459.8 L1357.0 4461.9 L1359.0 4463.9 L1361.0 4465.8 L1363.0 4467.7 L1365.0 4469.5 L1367.0 4471.3 L1369.0 4473.1 L1371.0 4474.7 L1373.0 4476.4 L1375.0 4478.0 L1377.0 4479.5 L1379.0 4481.0 L1381.0 4482.4 L1383.0 4483.8 L1385.0 4485.2 L1387.0 4486.5 L1389.0 4487.7 L1391.0 4488.9 L1393.0 4490.1 L1395.0 4491.3 L1397.0 4492.4 L1399.0 4493.4 L1401.0 4494.5 L1403.0 4495.4 L1405.0 4496.4 L1407.0 4497.3 L1409.0 4498.2 L1411.0 4499.1 L1413.0 4499.9 L1415.0 4500.7 L1417.0 4501.5 L1419.0 4502.2 L1421.0 4502.9 L1423.0 4503.6 L1425.0 4504.3 L1427.0 4504.9 L1429.0 4505.5 L1431.0 4506.1 L1433.0 4506.6 L1435.0 4507.2 L1437.0 4507.7 L1439.0 4508.2 L1441.0 4508.7 L1443.0 4509.1 L1445.0 4509.6 L1447.0 4510.0 L1449.0 4510.4 L1451.0 4510.8 L1453.0 4511.1 L1455.0 4511.5 L1457.0 4511.8 L1459.0 4512.2 L1461.0 4512.5 L1463.0 4512.8 L1465.0 4513.0 L1467.0 4513.3 L1469.0 4513.6 L1471.0 4513.8 L1473.0 4514.1 L1475.0 4514.3 L1477.0 4514.5 L1479.0 4514.7 L1481.0 4514.9 L1483.0 4515.1 L1485.0 4515.3 L1487.0 4515.4 L1489.0 4515.6 L1491.0 4515.7 L1493.0 4515.9 L1495.0 4516.0 L1497.0 4516.2 L1499.0 4516.3 L1501.0 4516.4 L1503.0 4516.5 L1505.0 4516.6 L1507.0 4516.7 L1509.0 4516.8 L1511.0 4516.9 L1513.0 4517.0 L1515.0 4517.1 L1517.0 4517.2 L1519.0 4517.2 L1521.0 4517.3 L1523.0 4517.4 L1525.0 4517.4 L1527.0 4517.5 L1529.0 4517.6 L1531.0 4517.6 L1533.0 4517.7 L1535.0 4517.7 L1537.0 4517.8 L1539.0 4517.8 L1541.0 4517.9 L1543.0 4517.9 L1545.0 4517.9 L1547.0 4518.0 L1549.0 4518.0 L1551.0 4518.0 L1553.0 4518.1 L1555.0 4518.1 L1557.0 4518.1 L1559.0 4518.1 L1561.0 4518.2 L1563.0 4518.2 L1565.0 4518.2 L1567.0 4518.2 L1569.0 4518.2 L1571.0 4518.2 L1573.0 4518.3 L1575.0 4518.3 L1577.0 4518.3 L1579.0 4518.3 L1581.0 4518.3 L1583.0 4518.3 L1585.0 4518.3 L1587.0 4518.4 L1589.0 4518.4 L1591.0 4518.4 L1593.0 4518.4 L1595.0 4518.4 L1597.0 4518.4 L1599.0 4518.4 L1601.0 4518.4 L1603.0 4518.4 L1605.0 4518.4 L1607.0 4518.4 L1609.0 4518.4 L1611.0 4518.4 L1613.0 4518.4 L1615.0 4518.4 L1617.0 4518.4 L1619.0 4518.5 L1621.0 4518.5 L1623.0 4518.5 L1625.0 4518.5 L1627.0 4518.5 L1629.0 4518.5 L1631.0 4518.5 L1633.0 4518.5 L1635.0 4518.5 L1637.0 4518.5 L1639.0 4518.5 L1641.0 4518.5 L1643.0 4518.5 L1645.0 4518.5 L1647.0 4518.5 L1649.0 4518.5 L1651.0 4518.5 L1653.0 4518.5 L1655.0 4518.5 L1657.0 4518.5 L1659.0 4518.5 L1661.0 4518.5 L1663.0 4518.5 L1665.0 4518.5 L1667.0 4518.5 L1669.0 4518.5 L1671.0 4518.5 L1673.0 4518.5 L1675.0 4518.5 L1677.0 4518.5 L1679.0 4518.5 L1681.0 4518.5 L1683.0 4518.5 L1685.0 4518.5 L1687.0 4518.5 L1689.0 4518.5 L1691.0 4518.5 L1693.0 4518.5 L1695.0 4518.5 L1697.0 4518.5 L1699.0 4518.5 L1701.0 4518.5 L1703.0 4518.5 L1705.0 4518.5 L1707.0 4518.5 L1709.0 4518.5 L1711.0 4518.5 L1713.0 4518.5 L1715.0 4518.5 L1717.0 4518.5 L1719.0 4518.5 L1721.0 4518.5 L1723.0 4518.5 L1725.0 4518.5 L1727.0 4518.5 L1729.0 4518.5 L1731.0 4518.5 L1733.0 4518.5 L1735.0 4518.5 L1737.0 4518.5 L1739.0 4518.5 L1741.0 4518.5 L1743.0 4518.5 L1745.0 4518.5 L1747.0 4518.5 L1749.0 4518.5 L1751.0 4518.5 L1753.0 4518.5 L1755.0 4518.5 L1757.0 4518.5 L1759.0 4518.5 L1761.0 4518.5 L1763.0 4518.5 L1765.0 4518.5 L1767.0 4518.5 L1769.0 4518.5 L1771.0 4518.5 L1773.0 4518.5 L1775.0 4518.5 L1777.0 4518.5 L1779.0 4518.5 L1781.0 4518.5 L1783.0 4518.5 L1785.0 4518.5 L1787.0 4518.5 L1789.0 4518.5 L1791.0 4518.5 L1793.0 4518.5 L1795.0 4518.5 L1797.0 4518.5 L1799.0 4518.5 L1801.0 4518.5 L1803.0 4518.5 L1805.0 4518.5 L1807.0 4518.5 L1809.0 4518.5 L1811.0 4518.5 L1813.0 4518.5 L1815.0 4518.5 L1817.0 4518.5 L1819.0 4518.5 L1821.0 4518.5 L1823.0 4518.5 L1825.0 4518.5 L1827.0 4518.5 L1829.0 4518.5 L1831.0 4518.5 L1833.0 4518.5 L1835.0 4518.5 L1837.0 4518.5 L1839.0 4518.5 L1841.0 4518.5 L1843.0 4518.5 L1845.0 4518.5 L1847.0 4518.5 L1849.0 4518.5 L1851.0 4518.5 L1853.0 4518.5 L1855.0 4518.5 L1857.0 4518.5 L1859.0 4518.5 L1861.0 4518.5 L1863.0 4518.5 L1865.0 4518.5 L1867.0 4518.5 L1869.0 4518.5 L1871.0 4518.5 L1873.0 4518.5 L1875.0 4518.5 L1877.0 4518.5 L1879.0 4518.5 L1881.0 4518.5 L1883.0 4518.5 L1885.0 4518.5 L1887.0 4518.5 L1889.0 4518.5 L1891.0 4518.5 L1893.0 4518.5 L1895.0 4518.5 L1897.0 4518.5 L1899.0 4518.5 L1901.0 4518.5 L1903.0 4518.5 L1905.0 4518.5 L1907.0 4518.5 L1909.0 4518.5 L1911.0 4518.5 L1913.0 4518.5 L1915.0 4518.5 L1917.0 4518.5 L1919.0 4518.5 L1921.0 4518.5"/>
<path id="c5" d="M261.0 4518.5 L263.0 4518.5 L265.0 4518.5 L267.0 4518.5 L269.0 4518.5 L271.0 4518.5 L273.0 4518.5 L275.0 4518.5 L277.0 4518.5 L279.0 4518.5 L281.0 4518.5 L283.0 4518.5 L285.0 4518.5 L287.0 4518.5 L289.0 4518.5 L291.0 4518.5 L293.0 4518.5 L295.0 4518.5 L297.0 4518.5 L299.0 4518.5 L301.0 4518.5 L303.0 4518.5 L305.0 4518.5 L307.0 4518.5 L309.0 4518.5 L311.0 4518.5 L313.0 4518.5 L315.0 4518.5 L317.0 4518.5 L319.0 4518.5 L321.0 4518.5 L323.0 4518.5 L325.0 4518.4 L327.0 4518.4 L329.0 4518.4 L331.0 4518.4 L333.0 4518.4 L335.0 4518.4 L337.0 4518.4 L339.0 4518.4 L341.0 4518.4 L343.0 4518.4 L345.0 4518.4 L347.0 4518.4 L349.0 4518.4 L351.0 4518.4 L353.0 4518.4 L355.0 4518.4 L357.0 4518.4 L359.0 4518.4 L361.0 4518.3 L363.0 4518.3 L365.0 4518.3 L367.0 4518.3 L369.0 4518.3 L371.0 4518.3 L373.0 4518.3 L375.0 4518.3 L377.0 4518.3 L379.0 4518.2 L381.0 4518.2 L383.0 4518.2 L385.0 4518.2 L387.0 4518.2 L389.0 4518.2 L391.0 4518.1 L393.0 4518.1 L395.0 4518.1 L397.0 4518.1 L399.0 4518.1 L401.0 4518.0 L403.0 4518.0 L405.0 4518.0 L407.0 4517.9 L409.0 4517.9 L411.0 4517.9 L413.0 4517.9 L415.0 4517.8 L417.0 4517.8 L419.0 4517.7 L421.0 4517.7 L423.0 4517.7 L425.0 4517.6 L427.0 4517.6 L429.0 4517.5 L431.0 4517.5 L433.0 4517.4 L435.0 4517.4 L437.0 4517.3 L439.0 4517.2 L441.0 4517.2 L443.0 4517.1 L445.0 4517.1 L447.0 4517.0 L449.0 4516.9 L451.0 4516.8 L453.0 4516.7 L455.0 4516.7 L457.0 4516.6 L459.0 4516.5 L461.0 4516.4 L463.0 4516.3 L465.0 4516.2 L467.0 4516.1 L469.0 4515.9 L471.0 4515.8 L473.0 4515.7 L475.0 4515.6 L477.0 4515.4 L479.0 4515.3 L481.0 4515.1 L483.0 4515.0 L485.0 4514.8 L487.0 4514.7 L489.0 4514.5 L491.0 4514.3 L493.0 4514.1 L495.0 4513.9 L497.0 4513.8 L499.0 4513.5 L501.0 4513.3 L503.0 4513.1 L505.0 4512.9 L507.0 4512.6 L509.0 4512.4 L511.0 4512.1 L513.0 4511.9 L515.0 4511.6 L517.0 4511.3 L519.0 4511.0 L521.0 4510.7 L523.0 4510.4 L525.0 4510.1 L527.0 4509.7 L529.0 4509.4 L531.0 4509.0 L533.0 4508.7 L535.0 4508.3 L537.0 4507.9 L539.0 4507.5 L541.0 4507.1 L543.0 4506.6 L545.0 4506.2 L547.0 4505.7 L549.0 4505.3 L551.0 4504.8 L553.0 4504.3 L555.0 4503.7 L557.0 4503.2 L559.0 4502.7 L561.0 4502.1 L563.0 4501.5 L565.0 4500.9 L567.0 4500.3 L569.0 4499.7 L571.0 4499.0 L573.0 4498.3 L575.0 4497.7 L577.0 4497.0 L579.0 4496.2 L581.0 4495.5 L583.0 4494.7 L585.0 4494.0 L587.0 4493.2 L589.0 4492.4 L591.0 4491.5 L593.0 4490.7 L595.0 4489.8 L597.0 4488.9 L599.0 4488.0 L601.0 4487.0 L603.0 4486.1 L605.0 4485.1 L607.0 4484.1 L609.0 4483.0 L611.0 4482.0 L613.0 4480.9 L615.0 4479.8 L617.0 4478.7 L619.0 4477.6 L621.0 4476.4 L623.0 4475.2 L625.0 4474.0 L627.0 4472.8 L629.0 4471.5 L631.0 4470.3 L633.0 4468.9 L635.0 4467.6 L637.0 4466.3 L639.0 4464.9 L641.0 4463.5 L643.0 4462.1 L645.0 4460.6 L647.0 4459.2 L649.0 4457.7 L651.0 4456.2 L653.0 4454.6 L655.0 4453.1 L657.0 4451.5 L659.0 4449.9 L661.0 4448.3 L663.0 4446.6 L665.0 4444.9 L667.0 4443.2 L669.0 4441.5 L671.0 4439.7 L673.0 4438.0 L675.0 4436.2 L677.0 4434.4 L679.0 4432.5 L681.0 4430.7 L683.0 4428.8 L685.0 4426.9 L687.0 4424.9 L689.0 4423.0 L691.0 4421.0 L693.0 4419.0 L695.0 4417.0 L697.0 4414.9 L699.0 4412.9 L701.0 4410.8 L703.0 4408.7 L705.0 4406.6 L707.0 4404.4 L709.0 4402.2 L711.0 4400.0 L713.0 4397.8 L715.0 4395.6 L717.0 4393.4 L719.0 4391.1 L721.0 4388.8 L723.0 4386.5 L725.0 4384.2 L727.0 4381.8 L729.0 4379.4 L731.0 4377.1 L733.0 4374.7 L735.0 4372.2 L737.0 4369.8 L739.0 4367.4 L741.0 4364.9 L743.0 4362.4 L745.0 4359.9 L747.0 4357.4 L749.0 4354.9 L751.0 4352.4 L753.0 4349.8 L755.0 4347.3 L757.0 4344.7 L759.0 4342.2 L761.0 4339.6 L763.0 4337.0 L765.0 4334.5 L767.0 4331.9 L769.0 4329.4 L771.0 4326.8 L773.0 4324.2 L775.0 4321.7 L777.0 4319.2 L779.0 4316.6 L781.0 4314.1 L783.0 4311.7 L785.0 4309.2 L787.0 4306.7 L789.0 4304.3 L791.0 4301.9 L793.0 4299.6 L795.0 4297.2 L797.0 4294.9 L799.0 4292.7 L801.0 4290.5 L803.0 4288.3 L805.0 4286.2 L807.0 4284.1 L809.0 4282.1 L811.0 4280.2 L813.0 4278.3 L815.0 4276.5 L817.0 4274.7 L819.0 4273.0 L821.0 4271.4 L823.0 4269.9 L825.0 4268.4 L827.0 4267.0 L829.0 4265.7 L831.0 4264.5 L833.0 4263.4 L835.0 4262.4 L837.0 4261.4 L839.0 4260.6 L841.0 4259.8 L843.0 4259.2 L845.0 4258.6 L847.0 4258.2 L849.0 4257.8 L851.0 4257.6 L853.0 4257.4 L855.0 4257.4 L857.0 4257.4 L859.0 4257.6 L861.0 4257.8 L863.0 4258.2 L865.0 4258.6 L867.0 4259.2 L869.0 4259.8 L871.0 4260.6 L873.0 4261.4 L875.0 4262.3 L877.0 4263.4 L879.0 4264.5 L881.0 4265.7 L883.0 4267.0 L885.0 4268.4 L887.0 4269.8 L889.0 4271.3 L891.0 4273.0 L893.0 4274.6 L895.0 4276.4 L897.0 4278.2 L899.0 4280.1 L901.0 4282.0 L903.0 4284.0 L905.0 4286.1 L907.0 4288.2 L909.0 4290.4 L911.0 4292.6 L913.0 4294.8 L915.0 4297.1 L917.0 4299.4 L919.0 4301.8 L921.0 4304.2 L923.0 4306.6 L925.0 4309.1 L927.0 4311.5 L929.0 4314.0 L931.0 4316.5 L933.0 4319.0 L935.0 4321.6 L937.0 4324.1 L939.0 4326.7 L941.0 4329.2 L943.0 4331.8 L945.0 4334.4 L947.0 4336.9 L949.0 4339.5 L951.0 4342.0 L953.0 4344.6 L955.0 4347.2 L957.0 4349.7 L959.0 4352.2 L961.0 4354.8 L963.0 4357.3 L965.0 4359.8 L967.0 4362.3 L969.0 4364.8 L971.0 4367.2 L973.0 4369.7 L975.0 4372.1 L977.0 4374.5 L979.0 4376.9 L981.0 4379.3 L983.0 4381.7 L985.0 4384.0 L987.0 4386.4 L989.0 4388.7 L991.0 4391.0 L993.0 4393.2 L995.0 4395.5 L997.0 4397.7 L999.0 4399.9 L1001.0 4402.1 L1003.0 4404.3 L1005.0 4406.5 L1007.0 4408.6 L1009.0 4410.7 L1011.0 4412.8 L1013.0 4414.8 L1015.0 4416.9 L1017.0 4418.9 L1019.0 4420.9 L1021.0 4422.9 L1023.0 4424.8 L1025.0 4426.8 L1027.0 4428.7 L1029.0 4430.6 L1031.0 4432.4 L1033.0 4434.3 L1035.0 4436.1 L1037.0 4437.9 L1039.0 4439.7 L1041.0 4441.4 L1043.0 4443.1 L1045.0 4444.8 L1047.0 4446.5 L1049.0 4448.2 L1051.0 4449.8 L1053.0 4451.4 L1055.0 4453.0 L1057.0 4454.6 L1059.0 4456.1 L1061.0 4457.6 L1063.0 4459.1 L1065.0 4460.6 L1067.0 4462.0 L1069.0 4463.4 L1071.0 4464.8 L1073.0 4466.2 L1075.0 4467.6 L1077.0 4468.9 L1079.0 4470.2 L1081.0 4471.5 L1083.0 4472.7 L1085.0 4474.0 L1087.0 4475.2 L1089.0 4476.3 L1091.0 4477.5 L1093.0 4478.7 L1095.0 4479.8 L1097.0 4480.9 L1099.0 4481.9 L1101.0 4483.0 L1103.0 4484.0 L1105.0 4485.0 L1107.0 4486.0 L1109.0 4487.0 L1111.0 4487.9 L1113.0 4488.8 L1115.0 4489.7 L1117.0 4490.6 L1119.0 4491.5 L1121.0 4492.3 L1123.0 4493.1 L1125.0 4493.9 L1127.0 4494.7 L1129.0 4495.5 L1131.0 4496.2 L1133.0 4496.9 L1135.0 4497.6 L1137.0 4498.3 L1139.0 4499.0 L1141.0 4499.6 L1143.0 4500.3 L1145.0 4500.9 L1147.0 4501.5 L1149.0 4502.1 L1151.0 4502.6 L1153.0 4503.2 L1155.0 4503.7 L1157.0 4504.2 L1159.0 4504.7 L1161.0 4505.2 L1163.0 4505.7 L1165.0 4506.2 L1167.0 4506.6 L1169.0 4507.0 L1171.0 4507.5 L1173.0 4507.9 L1175.0 4508.3 L1177.0 4508.7 L1179.0 4509.0 L1181.0 4509.4 L1183.0 4509.7 L1185.0 4510.1 L1187.0 4510.4 L1189.0 4510.7 L1191.0 4511.0 L1193.0 4511.3 L1195.0 4511.6 L1197.0 4511.9 L1199.0 4512.1 L1201.0 4512.4 L1203.0 4512.6 L1205.0 4512.9 L1207.0 4513.1 L1209.0 4513.3 L1211.0 4513.5 L1213.0 4513.7 L1215.0 4513.9 L1217.0 4514.1 L1219.0 4514.3 L1221.0 4514.5 L1223.0 4514.7 L1225.0 4514.8 L1227.0 4515.0 L1229.0 4515.1 L1231.0 4515.3 L1233.0 4515.4 L1235.0 4515.6 L1237.0 4515.7 L1239.0 4515.8 L1241.0 4515.9 L1243.0 4516.1 L1245.0 4516.2 L1247.0 4516.3 L1249.0 4516.4 L1251.0 4516.5 L1253.0 4516.6 L1255.0 4516.7 L1257.0 4516.7 L1259.0 4516.8 L1261.0 4516.9 L1263.0 4517.0 L1265.0 4517.0 L1267.0 4517.1 L1269.0 4517.2 L1271.0 4517.2 L1273.0 4517.3 L1275.0 4517.4 L1277.0 4517.4 L1279.0 4517.5 L1281.0 4517.5 L1283.0 4517.6 L1285.0 4517.6 L1287.0 4517.7 L1289.0 4517.7 L1291.0 4517.7 L1293.0 4517.8 L1295.0 4517.8 L1297.0 4517.9 L1299.0 4517.9 L1301.0 4517.9 L1303.0 4517.9 L1305.0 4518.0 L1307.0 4518.0 L1309.0 4518.0 L1311.0 4518.1 L1313.0 4518.1 L1315.0 4518.1 L1317.0 4518.1 L1319.0 4518.1 L1321.0 4518.2 L1323.0 4518.2 L1325.0 4518.2 L1327.0 4518.2 L1329.0 4518.2 L1331.0 4518.2 L1333.0 4518.3 L1335.0 4518.3 L1337.0 4518.3 L1339.0 4518.3 L1341.0 4518.3 L1343.0 4518.3 L1345.0 4518.3 L1347.0 4518.3 L1349.0 4518.3 L1351.0 4518.4 L1353.0 4518.4 L1355.0 4518.4 L1357.0 4518.4 L1359.0 4518.4 L1361.0 4518.4 L1363.0 4518.4 L1365.0 4518.4 L1367.0 4518.4 L1369.0 4518.4 L1371.0 4518.4 L1373.0 4518.4 L1375.0 4518.4 L1377.0 4518.4 L1379.0 4518.4 L1381.0 4518.4 L1383.0 4518.4 L1385.0 4518.4 L1387.0 4518.5 L1389.0 4518.5 L1391.0 4518.5 L1393.0 4518.5 L1395.0 4518.5 L1397.0 4518.5 L1399.0 4518.5 L1401.0 4518.5 L1403.0 4518.5 L1405.0 4518.5 L1407.0 4518.5 L1409.0 4518.5 L1411.0 4518.5 L1413.0 4518.5 L1415.0 4518.5 L1417.0 4518.5 L1419.0 4518.5 L1421.0 4518.5 L1423.0 4518.5 L1425.0 4518.5 L1427.0 4518.5 L1429.0 4518.5 L1431.0 4518.5 L1433.0 4518.5 L1435.0 4518.5 L1437.0 4518.5 L1439.0 4518.5 L1441.0 4518.5 L1443.0 4518.5 L1445.0 4518.5 L1447.0 4518.5 L1449.0 4518.5 L1451.0 4518.5 L1453.0 4518.5 L1455.0 4518.5 L1457.0 4518.5 L1459.0 4518.5 L1461.0 4518.5 L1463.0 4518.5 L1465.0 4518.5 L1467.0 4518.5 L1469.0 4518.5 L1471.0 4518.5 L1473.0 4518.5 L1475.0 4518.5 L1477.0 4518.5 L1479.0 4518.5 L1481.0 4518.5 L1483.0 4518.5 L1485.0 4518.5 L1487.0 4518.5 L1489.0 4518.5 L1491.0 4518.5 L1493.0 4518.5 L1495.0 4518.5 L1497.0 4518.5 L1499.0 4518.5 L1501.0 4518.5 L1503.0 4518.5 L1505.0 4518.5 L1507.0 4518.5 L1509.0 4518.5 L1511.0 4518.5 L1513.0 4518.5 L1515.0 4518.5 L1517.0 4518.5 L1519.0 4518.5 L1521.0 4518.5 L1523.0 4518.5 L1525.0 4518.5 L1527.0 4518.5 L1529.0 4518.5 L1531.0 4518.5 L1533.0 4518.5 L1535.0 4518.5 L1537.0 4518.5 L1539.0 4518.5 L1541.0 4518.5 L1543.0 4518.5 L1545.0 4518.5 L1547.0 4518.5 L1549.0 4518.5 L1551.0 4518.5 L1553.0 4518.5 L1555.0 4518.5 L1557.0 4518.5 L1559.0 4518.5 L1561.0 4518.5 L1563.0 4518.5 L1565.0 4518.5 L1567.0 4518.5 L1569.0 4518.5 L1571.0 4518.5 L1573.0 4518.5 L1575.0 4518.5 L1577.0 4518.5 L1579.0 4518.5 L1581.0 4518.5 L1583.0 4518.5 L1585.0 4518.5 L1587.0 4518.5 L1589.0 4518.5 L1591.0 4518.5 L1593.0 4518.5 L1595.0 4518.5 L1597.0 4518.5 L1599.0 4518.5 L1601.0 4518.5 L1603.0 4518.5 L1605.0 4518.5 L1607.0 4518.5 L1609.0 4518.5 L1611.0 4518.5 L1613.0 4518.5 L1615.0 4518.5 L1617.0 4518.5 L1619.0 4518.5 L1621.0 4518.5 L1623.0 4518.5 L1625.0 4518.5 L1627.0 4518.5 L1629.0 4518.5 L1631.0 4518.5 L1633.0 4518.5 L1635.0 4518.5 L1637.0 4518.5 L1639.0 4518.5 L1641.0 4518.5 L1643.0 4518.5 L1645.0 4518.5 L1647.0 4518.5 L1649.0 4518.5 L1651.0 4518.5 L1653.0 4518.5 L1655.0 4518.5 L1657.0 4518.5 L1659.0 4518.5 L1661.0 4518.5 L1663.0 4518.5 L1665.0 4518.5 L1667.0 4518.5 L1669.0 4518.5 L1671.0 4518.5 L1673.0 4518.5 L1675.0 4518.5 L1677.0 4518.5 L1679.0 4518.5 L1681.0 4518.5 L1683.0 4518.5 L1685.0 4518.5 L1687.0 4518.5 L1689.0 4518.5 L1691.0 4518.5 L1693.0 4518.5 L1695.0 4518.5 L1697.0 4518.5 L1699.0 4518.5 L1701.0 4518.5 L1703.0 4518.5 L1705.0 4518.5 L1707.0 4518.5 L1709.0 4518.5 L1711.0 4518.5 L1713.0 4518.5 L1715.0 4518.5 L1717.0 4518.5 L1719.0 4518.5 L1721.0 4518.5 L1723.0 4518.5 L1725.0 4518.5 L1727.0 4518.5 L1729.0 4518.5 L1731.0 4518.5 L1733.0 4518.5 L1735.0 4518.5 L1737.0 4518.5 L1739.0 4518.5 L1741.0 4518.5 L1743.0 4518.5 L1745.0 4518.5 L1747.0 4518.5 L1749.0 4518.5 L1751.0 4518.5 L1753.0 4518.5 L1755.0 4518.5 L1757.0 4518.5 L1759.0 4518.5 L1761.0 4518.5 L1763.0 4518.5 L1765.0 4518.5 L1767.0 4518.5 L1769.0 4518.5 L1771.0 4518.5 L1773.0 4518.5 L1775.0 4518.5 L1777.0 4518.5 L1779.0 4518.5 L1781.0 4518.5 L1783.0 4518.5 L1785.0 4518.5 L1787.0 4518.5 L1789.0 4518.5 L1791.0 4518.5 L1793.0 4518.5 L1795.0 4518.5 L1797.0 4518.5 L1799.0 4518.5 L1801.0 4518.5 L1803.0 4518.5 L1805.0 4518.5 L1807.0 4518.5 L1809.0 4518.5 L1811.0 4518.5 L1813.0 4518.5 L1815.0 4518.5 L1817.0 4518.5 L1819.0 4518.5 L1821.0 4518.5 L1823.0 4518.5 L1825.0 4518.5 L1827.0 4518.5 L1829.0 4518.5 L1831.0 4518.5 L1833.0 4518.5 L1835.0 4518.5 L1837.0 4518.5 L1839.0 4518.5 L1841.0 4518.5 L1843.0 4518.5 L1845.0 4518.5 L1847.0 4518.5 L1849.0 4518.5 L1851.0 4518.5 L1853.0 4518.5 L1855.0 4518.5 L1857.0 4518.5 L1859.0 4518.5 L1861.0 4518.5 L1863.0 4518.5 L1865.0 4518.5 L1867.0 4518.5 L1869.0 4518.5 L1871.0 4518.5 L1873.0 4518.5 L1875.0 4518.5 L1877.0 4518.5 L1879.0 4518.5 L1881.0 4518.5 L1883.0 4518.5 L1885.0 4518.5 L1887.0 4518.5 L1889.0 4518.5 L1891.0 4518.5 L1893.0 4518.5 L1895.0 4518.5 L1897.0 4518.5 L1899.0 4518.5 L1901.0 4518.5 L1903.0 4518.5 L1905.0 4518.5 L1907.0 4518.5 L1909.0 4518.5 L1911.0 4518.5 L1913.0 4518.5 L1915.0 4518.5 L1917.0 4518.5 L1919.0 4518.5 L1921.0 4518.5"/>
<path id="c6" d="M261.0 4514.0 L262.5 4513.5 L264.0 4513.0 L265.5 4512.7 L267.0 4512.3 L268.5 4512.0 L270.0 4511.8 L271.5 4511.6 L273.0 4511.4 L274.5 4511.3 L276.0 4511.2 L277.5 4511.1 L279.0 4511.1 L280.5 4511.0 L282.0 4511.0 L283.5 4511.0 L285.0 4511.0 L286.5 4511.0 L288.0 4511.2 L289.5 4511.6 L291.0 4512.2 L292.5 4512.8 L294.0 4513.4 L295.5 4514.0 L297.0 4514.5 L298.5 4514.9 L300.0 4515.0 L301.5 4515.0 L303.0 4515.0 L304.5 4515.0 L306.0 4515.0 L307.5 4515.0 L309.0 4515.0 L310.5 4515.0 L312.0 4515.0 L313.5 4515.0 L315.0 4515.0 L316.5 4515.0 L318.0 4515.0 L319.5 4515.0 L321.0 4515.0 L322.5 4515.0 L324.0 4515.0 L325.5 4515.0 L327.0 4515.0 L328.5 4515.0 L330.0 4515.0 L331.5 4515.0 L333.0 4515.0 L334.5 4514.9 L336.0 4514.9 L337.5 4514.8 L339.0 4514.8 L340.5 4514.7 L342.0 4514.6 L343.5 4514.6 L345.0 4514.5 L346.5 4514.4 L348.0 4514.4 L349.5 4514.3 L351.0 4514.2 L352.5 4514.2 L354.0 4514.1 L355.5 4514.1 L357.0 4514.0 L358.5 4514.0 L360.0 4514.0 L361.5 4514.0 L363.0 4514.0 L364.5 4514.0 L366.0 4514.1 L367.5 4514.1 L369.0 4514.1 L370.5 4514.2 L372.0 4514.2 L373.5 4514.3 L375.0 4514.3 L376.5 4514.4 L378.0 4514.4 L379.5 4514.5 L381.0 4514.5 L382.5 4514.6 L384.0 4514.6 L385.5 4514.7 L387.0 4514.8 L388.5 4514.8 L390.0 4514.8 L391.5 4514.9 L393.0 4514.9 L394.5 4514.9 L396.0 4515.0 L397.5 4515.0 L399.0 4515.0 L400.5 4515.0 L402.0 4515.0 L403.5 4515.0 L405.0 4515.0 L406.5 4514.9 L408.0 4514.9 L409.5 4514.9 L411.0 4514.8 L412.5 4514.8 L414.0 4514.7 L415.5 4514.7 L417.0 4514.6 L418.5 4514.6 L420.0 4514.5 L421.5 4514.4 L423.0 4514.4 L424.5 4514.3 L426.0 4514.3 L427.5 4514.2 L429.0 4514.2 L430.5 4514.1 L432.0 4514.1 L433.5 4514.1 L435.0 4514.0 L436.5 4514.0 L438.0 4514.0 L439.5 4514.0 L441.0 4514.0 L442.5 4514.0 L444.0 4514.0 L445.5 4514.1 L447.0 4514.1 L448.5 4514.2 L450.0 4514.3 L451.5 4514.3 L453.0 4514.4 L454.5 4514.5 L456.0 4514.5 L457.5 4514.6 L459.0 4514.7 L460.5 4514.8 L462.0 4514.8 L463.5 4514.9 L465.0 4514.9 L466.5 4515.0 L468.0 4515.0 L469.5 4515.0 L471.0 4515.0 L472.5 4514.8 L474.0 4514.5 L475.5 4514.1 L477.0 4513.7 L478.5 4513.1 L480.0 4512.5 L481.5 4511.9 L483.0 4511.2 L484.5 4510.6 L486.0 4509.9 L487.5 4509.3 L489.0 4508.7 L490.5 4508.2 L492.0 4507.7 L493.5 4507.4 L495.0 4507.1 L496.5 4507.0 L498.0 4507.1 L499.5 4507.3 L501.0 4507.7 L502.5 4508.2 L504.0 4508.7 L505.5 4509.2 L507.0 4509.6 L508.5 4509.9 L510.0 4510.0 L511.5 4509.8 L513.0 4509.4 L514.5 4508.7 L516.0 4508.1 L517.5 4507.5 L519.0 4507.1 L520.5 4507.0 L522.0 4507.1 L523.5 4507.3 L525.0 4507.7 L526.5 4508.1 L528.0 4508.6 L529.5 4509.1 L531.0 4509.7 L532.5 4510.3 L534.0 4510.9 L535.5 4511.5 L537.0 4512.0 L538.5 4512.6 L540.0 4513.0 L541.5 4513.4 L543.0 4513.8 L544.5 4514.0 L546.0 4514.1 L547.5 4514.2 L549.0 4514.3 L550.5 4514.4 L552.0 4514.4 L553.5 4514.5 L555.0 4514.6 L556.5 4514.7 L558.0 4514.7 L559.5 4514.8 L561.0 4514.8 L562.5 4514.9 L564.0 4514.9 L565.5 4515.0 L567.0 4515.0 L568.5 4515.0 L570.0 4515.0 L571.5 4514.1 L573.0 4512.0 L574.5 4509.0 L576.0 4505.9 L577.5 4503.2 L579.0 4501.4 L580.5 4501.0 L582.0 4501.1 L583.5 4501.4 L585.0 4501.8 L586.5 4502.2 L588.0 4502.6 L589.5 4503.1 L591.0 4503.5 L592.5 4503.8 L594.0 4504.0 L595.5 4504.0 L597.0 4503.9 L598.5 4503.8 L600.0 4503.6 L601.5 4503.3 L603.0 4503.0 L604.5 4502.6 L606.0 4502.0 L607.5 4500.6 L609.0 4498.6 L610.5 4496.2 L612.0 4493.4 L613.5 4490.7 L615.0 4488.0 L616.5 4485.2 L618.0 4481.9 L619.5 4478.3 L621.0 4474.4 L622.5 4470.4 L624.0 4466.3 L625.5 4462.4 L627.0 4458.6 L628.5 4455.1 L630.0 4452.0 L631.5 4449.4 L633.0 4447.4 L634.5 4446.2 L636.0 4445.7 L637.5 4445.2 L639.0 4444.7 L640.5 4444.3 L642.0 4444.0 L643.5 4443.6 L645.0 4443.4 L646.5 4443.2 L648.0 4443.1 L649.5 4443.0 L651.0 4443.1 L652.5 4443.5 L654.0 4444.2 L655.5 4445.1 L657.0 4446.2 L658.5 4447.2 L660.0 4448.2 L661.5 4449.0 L663.0 4449.7 L664.5 4450.0 L666.0 4449.9 L667.5 4449.3 L669.0 4448.4 L670.5 4447.0 L672.0 4445.3 L673.5 4443.4 L675.0 4441.2 L676.5 4438.9 L678.0 4436.4 L679.5 4433.9 L681.0 4431.4 L682.5 4428.9 L684.0 4426.5 L685.5 4424.2 L687.0 4421.9 L688.5 4419.3 L690.0 4416.6 L691.5 4413.8 L693.0 4411.0 L694.5 4408.2 L696.0 4405.4 L697.5 4402.6 L699.0 4400.0 L700.5 4397.4 L702.0 4394.8 L703.5 4392.3 L705.0 4390.0 L706.5 4388.0 L708.0 4386.1 L709.5 4384.2 L711.0 4382.5 L712.5 4380.8 L714.0 4379.2 L715.5 4377.6 L717.0 4376.0 L718.5 4374.5 L720.0 4372.9 L721.5 4371.3 L723.0 4369.7 L724.5 4368.1 L726.0 4366.4 L727.5 4364.7 L729.0 4363.0 L730.5 4361.4 L732.0 4359.8 L733.5 4358.2 L735.0 4356.6 L736.5 4354.9 L738.0 4353.3 L739.5 4351.7 L741.0 4350.0 L742.5 4348.3 L744.0 4346.6 L745.5 4344.9 L747.0 4343.1 L748.5 4341.2 L750.0 4339.3 L751.5 4337.4 L753.0 4335.3 L754.5 4333.2 L756.0 4331.0 L757.5 4328.7 L759.0 4326.3 L760.5 4323.7 L762.0 4321.0 L763.5 4318.1 L765.0 4315.0 L766.5 4311.4 L768.0 4307.2 L769.5 4302.9 L771.0 4298.7 L772.5 4295.0 L774.0 4291.7 L775.5 4288.4 L777.0 4285.2 L778.5 4282.2 L780.0 4279.4 L781.5 4276.9 L783.0 4274.7 L784.5 4273.0 L786.0 4271.7 L787.5 4270.5 L789.0 4269.5 L790.5 4268.6 L792.0 4267.8 L793.5 4267.0 L795.0 4266.3 L796.5 4265.6 L798.0 4264.9 L799.5 4264.2 L801.0 4263.5 L802.5 4262.9 L804.0 4262.3 L805.5 4261.8 L807.0 4261.3 L808.5 4260.8 L810.0 4260.2 L811.5 4259.5 L813.0 4258.7 L814.5 4257.8 L816.0 4256.7 L817.5 4254.9 L819.0 4252.8 L820.5 4250.5 L822.0 4248.2 L823.5 4246.1 L825.0 4243.9 L826.5 4241.7 L828.0 4239.5 L829.5 4237.2 L831.0 4234.9 L832.5 4232.6 L834.0 4230.2 L835.5 4227.7 L837.0 4225.2 L838.5 4222.6 L840.0 4220.0 L841.5 4217.3 L843.0 4214.7 L844.5 4211.9 L846.0 4209.0 L847.5 4205.8 L849.0 4202.4 L850.5 4198.7 L852.0 4194.2 L853.5 4189.1 L855.0 4183.8 L856.5 4178.4 L858.0 4173.3 L859.5 4168.0 L861.0 4162.7 L862.5 4157.5 L864.0 4152.7 L865.5 4148.7 L867.0 4145.2 L868.5 4141.9 L870.0 4138.9 L871.5 4136.1 L873.0 4133.4 L874.5 4130.8 L876.0 4128.2 L877.5 4125.7 L879.0 4123.0 L880.5 4120.2 L882.0 4117.2 L883.5 4114.0 L885.0 4110.2 L886.5 4105.7 L888.0 4100.8 L889.5 4095.6 L891.0 4090.5 L892.5 4085.7 L894.0 4081.4 L895.5 4077.8 L897.0 4075.3 L898.5 4074.1 L900.0 4074.2 L901.5 4075.0 L903.0 4076.3 L904.5 4077.9 L906.0 4079.6 L907.5 4081.1 L909.0 4082.3 L910.5 4083.0 L912.0 4082.6 L913.5 4080.8 L915.0 4077.8 L916.5 4073.9 L918.0 4069.3 L919.5 4064.4 L921.0 4059.5 L922.5 4054.9 L924.0 4050.9 L925.5 4047.8 L927.0 4045.6 L928.5 4043.8 L930.0 4042.3 L931.5 4040.9 L933.0 4039.7 L934.5 4038.5 L936.0 4037.4 L937.5 4036.3 L939.0 4035.0 L940.5 4033.6 L942.0 4032.0 L943.5 4030.2 L945.0 4028.0 L946.5 4025.1 L948.0 4021.1 L949.5 4016.5 L951.0 4011.4 L952.5 4006.1 L954.0 4000.9 L955.5 3996.1 L957.0 3992.0 L958.5 3988.3 L960.0 3984.7 L961.5 3981.2 L963.0 3977.8 L964.5 3974.7 L966.0 3971.8 L967.5 3969.2 L969.0 3967.0 L970.5 3965.2 L972.0 3963.7 L973.5 3962.4 L975.0 3961.2 L976.5 3960.0 L978.0 3958.6 L979.5 3957.0 L981.0 3955.0 L982.5 3952.2 L984.0 3948.3 L985.5 3943.7 L987.0 3938.6 L988.5 3933.4 L990.0 3928.3 L991.5 3923.8 L993.0 3920.0 L994.5 3917.2 L996.0 3915.0 L997.5 3913.2 L999.0 3911.7 L1000.5 3910.3 L1002.0 3908.9 L1003.5 3907.5 L1005.0 3906.0 L1006.5 3904.2 L1008.0 3902.0 L1009.5 3899.4 L1011.0 3895.6 L1012.5 3890.7 L1014.0 3885.0 L1015.5 3879.0 L1017.0 3873.0 L1018.5 3867.5 L1020.0 3861.9 L1021.5 3856.2 L1023.0 3850.5 L1024.5 3845.3 L1026.0 3840.7 L1027.5 3837.0 L1029.0 3833.8 L1030.5 3830.3 L1032.0 3825.8 L1033.5 3820.7 L1035.0 3815.4 L1036.5 3810.4 L1038.0 3806.0 L1039.5 3802.4 L1041.0 3798.9 L1042.5 3795.8 L1044.0 3793.0 L1045.5 3790.7 L1047.0 3788.8 L1048.5 3787.1 L1050.0 3785.6 L1051.5 3784.3 L1053.0 3783.5 L1054.5 3783.0 L1056.0 3782.7 L1057.5 3782.5 L1059.0 3782.3 L1060.5 3782.2 L1062.0 3782.0 L1063.5 3781.8 L1065.0 3781.6 L1066.5 3781.2 L1068.0 3780.7 L1069.5 3779.4 L1071.0 3777.6 L1072.5 3775.3 L1074.0 3772.8 L1075.5 3770.3 L1077.0 3768.1 L1078.5 3765.9 L1080.0 3763.6 L1081.5 3761.2 L1083.0 3758.6 L1084.5 3755.8 L1086.0 3752.6 L1087.5 3749.1 L1089.0 3745.3 L1090.5 3741.4 L1092.0 3737.4 L1093.5 3733.1 L1095.0 3728.5 L1096.5 3723.8 L1098.0 3719.3 L1099.5 3715.0 L1101.0 3711.3 L1102.5 3707.8 L1104.0 3704.1 L1105.5 3700.0 L1107.0 3694.8 L1108.5 3688.5 L1110.0 3681.7 L1111.5 3674.9 L1113.0 3668.8 L1114.5 3663.8 L1116.0 3660.1 L1117.5 3656.9 L1119.0 3653.8 L1120.5 3651.0 L1122.0 3648.5 L1123.5 3646.1 L1125.0 3643.9 L1126.5 3641.8 L1128.0 3639.9 L1129.5 3638.1 L1131.0 3636.3 L1132.5 3634.7 L1134.0 3633.1 L1135.5 3631.5 L1137.0 3630.0 L1138.5 3628.6 L1140.0 3627.3 L1141.5 3626.0 L1143.0 3624.8 L1144.5 3623.6 L1146.0 3622.5 L1147.5 3621.5 L1149.0 3620.6 L1150.5 3619.7 L1152.0 3619.0 L1153.5 3618.3 L1155.0 3617.7 L1156.5 3617.2 L1158.0 3616.7 L1159.5 3616.2 L1161.0 3615.7 L1162.5 3615.1 L1164.0 3614.5 L1165.5 3613.7 L1167.0 3612.8 L1168.5 3611.8 L1170.0 3610.5 L1171.5 3608.9 L1173.0 3607.1 L1174.5 3605.0 L1176.0 3602.6 L1177.5 3600.0 L1179.0 3595.7 L1180.5 3589.4 L1182.0 3582.7 L1183.5 3577.4 L1185.0 3575.0 L1186.5 3574.6 L1188.0 3574.4 L1189.5 3574.2 L1191.0 3574.0 L1192.5 3574.0 L1194.0 3574.5 L1195.5 3575.8 L1197.0 3577.6 L1198.5 3579.5 L1200.0 3581.2 L1201.5 3582.3 L1203.0 3582.4 L1204.5 3581.7 L1206.0 3580.2 L1207.5 3578.2 L1209.0 3575.8 L1210.5 3573.3 L1212.0 3570.8 L1213.5 3568.4 L1215.0 3565.8 L1216.5 3563.1 L1218.0 3560.1 L1219.5 3556.9 L1221.0 3553.5 L1222.5 3550.0 L1224.0 3545.7 L1225.5 3540.6 L1227.0 3535.4 L1228.5 3530.8 L1230.0 3527.5 L1231.5 3525.3 L1233.0 3523.5 L1234.5 3521.9 L1236.0 3520.6 L1237.5 3519.4 L1239.0 3518.2 L1240.5 3517.0 L1242.0 3515.7 L1243.5 3514.2 L1245.0 3512.5 L1246.5 3510.5 L1248.0 3508.4 L1249.5 3506.1 L1251.0 3503.7 L1252.5 3501.2 L1254.0 3498.6 L1255.5 3495.9 L1257.0 3493.2 L1258.5 3490.3 L1260.0 3487.5 L1261.5 3484.5 L1263.0 3481.1 L1264.5 3477.6 L1266.0 3474.0 L1267.5 3470.5 L1269.0 3467.0 L1270.5 3463.8 L1272.0 3460.9 L1273.5 3458.3 L1275.0 3456.0 L1276.5 3453.7 L1278.0 3451.6 L1279.5 3449.6 L1281.0 3447.6 L1282.5 3445.7 L1284.0 3443.8 L1285.5 3441.8 L1287.0 3439.6 L1288.5 3437.3 L1290.0 3434.9 L1291.5 3432.6 L1293.0 3430.6 L1294.5 3429.0 L1296.0 3427.9 L1297.5 3427.5 L1299.0 3428.4 L1300.5 3430.7 L1302.0 3433.8 L1303.5 3438.5 L1305.0 3446.8 L1306.5 3456.5 L1308.0 3465.4 L1309.5 3475.2 L1311.0 3484.3 L1312.5 3490.0 L1314.0 3492.8 L1315.5 3495.3 L1317.0 3497.4 L1318.5 3499.0 L1320.0 3500.2 L1321.5 3500.9 L1323.0 3501.0 L1324.5 3500.8 L1326.0 3500.3 L1327.5 3499.7 L1329.0 3499.0 L1330.5 3498.3 L1332.0 3497.5 L1333.5 3496.9 L1335.0 3496.4 L1336.5 3496.1 L1338.0 3496.0 L1339.5 3496.7 L1341.0 3498.1 L1342.5 3500.1 L1344.0 3502.5 L1345.5 3508.5 L1347.0 3519.5 L1348.5 3532.4 L1350.0 3544.2 L1351.5 3552.3 L1353.0 3558.6 L1354.5 3564.4 L1356.0 3569.7 L1357.5 3574.6 L1359.0 3579.2 L1360.5 3583.5 L1362.0 3587.7 L1363.5 3591.8 L1365.0 3596.0 L1366.5 3600.0 L1368.0 3603.6 L1369.5 3607.1 L1371.0 3610.5 L1372.5 3613.9 L1374.0 3617.6 L1375.5 3621.6 L1377.0 3625.9 L1378.5 3630.3 L1380.0 3634.7 L1381.5 3639.5 L1383.0 3644.6 L1384.5 3650.2 L1386.0 3656.5 L1387.5 3663.5 L1389.0 3672.0 L1390.5 3683.3 L1392.0 3695.8 L1393.5 3708.9 L1395.0 3723.9 L1396.5 3739.1 L1398.0 3752.5 L1399.5 3762.2 L1401.0 3769.9 L1402.5 3776.7 L1404.0 3782.8 L1405.5 3788.4 L1407.0 3793.5 L1408.5 3798.3 L1410.0 3803.1 L1411.5 3808.0 L1413.0 3813.0 L1414.5 3817.7 L1416.0 3822.3 L1417.5 3826.7 L1419.0 3830.9 L1420.5 3835.1 L1422.0 3839.3 L1423.5 3843.6 L1425.0 3847.9 L1426.5 3852.4 L1428.0 3857.1 L1429.5 3862.0 L1431.0 3867.1 L1432.5 3872.3 L1434.0 3877.7 L1435.5 3883.2 L1437.0 3888.8 L1438.5 3894.4 L1440.0 3900.2 L1441.5 3906.0 L1443.0 3911.9 L1444.5 3917.7 L1446.0 3923.7 L1447.5 3929.6 L1449.0 3935.5 L1450.5 3941.4 L1452.0 3947.3 L1453.5 3953.1 L1455.0 3959.0 L1456.5 3964.9 L1458.0 3970.8 L1459.5 3976.8 L1461.0 3982.8 L1462.5 3988.8 L1464.0 3994.8 L1465.5 4000.8 L1467.0 4006.8 L1468.5 4012.9 L1470.0 4018.9 L1471.5 4025.0 L1473.0 4031.0 L1474.5 4037.2 L1476.0 4043.6 L1477.5 4050.2 L1479.0 4056.9 L1480.5 4063.6 L1482.0 4070.3 L1483.5 4077.0 L1485.0 4083.4 L1486.5 4089.6 L1488.0 4095.5 L1489.5 4101.0 L1491.0 4106.1 L1492.5 4110.6 L1494.0 4114.6 L1495.5 4118.3 L1497.0 4121.7 L1498.5 4124.8 L1500.0 4127.8 L1501.5 4130.6 L1503.0 4133.3 L1504.5 4136.0 L1506.0 4138.8 L1507.5 4141.6 L1509.0 4144.6 L1510.5 4147.8 L1512.0 4151.2 L1513.5 4154.7 L1515.0 4158.3 L1516.5 4162.0 L1518.0 4165.7 L1519.5 4169.6 L1521.0 4173.5 L1522.5 4177.5 L1524.0 4181.5 L1525.5 4185.6 L1527.0 4189.8 L1528.5 4194.0 L1530.0 4198.3 L1531.5 4202.6 L1533.0 4207.0 L1534.5 4211.4 L1536.0 4216.0 L1537.5 4220.6 L1539.0 4225.3 L1540.5 4230.1 L1542.0 4235.0 L1543.5 4240.0 L1545.0 4245.1 L1546.5 4250.4 L1548.0 4256.0 L1549.5 4262.2 L1551.0 4268.7 L1552.5 4275.3 L1554.0 4281.8 L1555.5 4288.0 L1557.0 4293.6 L1558.5 4298.6 L1560.0 4302.7 L1561.5 4306.6 L1563.0 4310.1 L1564.5 4313.5 L1566.0 4316.6 L1567.5 4319.6 L1569.0 4322.4 L1570.5 4325.1 L1572.0 4327.8 L1573.5 4330.5 L1575.0 4333.1 L1576.5 4335.8 L1578.0 4338.6 L1579.5 4341.5 L1581.0 4344.5 L1582.5 4347.7 L1584.0 4351.2 L1585.5 4354.9 L1587.0 4358.9 L1588.5 4363.1 L1590.0 4367.4 L1591.5 4371.8 L1593.0 4376.2 L1594.5 4380.5 L1596.0 4384.7 L1597.5 4388.7 L1599.0 4392.5 L1600.5 4395.9 L1602.0 4398.9 L1603.5 4401.5 L1605.0 4404.0 L1606.5 4406.2 L1608.0 4408.3 L1609.5 4410.3 L1611.0 4412.2 L1612.5 4414.0 L1614.0 4415.7 L1615.5 4417.4 L1617.0 4419.0 L1618.5 4420.7 L1620.0 4422.3 L1621.5 4423.9 L1623.0 4425.6 L1624.5 4427.4 L1626.0 4429.2 L1627.5 4431.1 L1629.0 4433.1 L1630.5 4435.3 L1632.0 4437.6 L1633.5 4440.4 L1635.0 4443.5 L1636.5 4446.8 L1638.0 4450.3 L1639.5 4453.9 L1641.0 4457.4 L1642.5 4460.7 L1644.0 4463.8 L1645.5 4466.7 L1647.0 4469.0 L1648.5 4470.9 L1650.0 4472.2 L1651.5 4472.9 L1653.0 4473.3 L1654.5 4473.7 L1656.0 4474.0 L1657.5 4474.4 L1659.0 4474.7 L1660.5 4474.9 L1662.0 4475.1 L1663.5 4475.4 L1665.0 4475.5 L1666.5 4475.7 L1668.0 4475.8 L1669.5 4476.0 L1671.0 4476.1 L1672.5 4476.2 L1674.0 4476.2 L1675.5 4476.3 L1677.0 4476.3 L1678.5 4476.4 L1680.0 4476.5 L1681.5 4476.5 L1683.0 4476.6 L1684.5 4476.7 L1686.0 4476.9 L1687.5 4477.2 L1689.0 4477.5 L1690.5 4477.8 L1692.0 4478.2 L1693.5 4478.7 L1695.0 4479.1 L1696.5 4479.7 L1698.0 4480.2 L1699.5 4480.8 L1701.0 4481.5 L1702.5 4482.4 L1704.0 4483.5 L1705.5 4484.7 L1707.0 4486.2 L1708.5 4487.7 L1710.0 4489.4 L1711.5 4491.1 L1713.0 4492.8 L1714.5 4494.5 L1716.0 4496.2 L1717.5 4497.8 L1719.0 4499.3 L1720.5 4500.6 L1722.0 4501.8 L1723.5 4502.7 L1725.0 4503.5 L1726.5 4504.3 L1728.0 4505.0 L1729.5 4505.8 L1731.0 4506.5 L1732.5 4507.2 L1734.0 4507.8 L1735.5 4508.5 L1737.0 4509.1 L1738.5 4509.7 L1740.0 4510.2 L1741.5 4510.7 L1743.0 4511.2 L1744.5 4511.6 L1746.0 4512.0 L1747.5 4512.3 L1749.0 4512.6 L1750.5 4512.8 L1752.0 4513.0 L1753.5 4513.1 L1755.0 4513.2 L1756.5 4513.3 L1758.0 4513.4 L1759.5 4513.4 L1761.0 4513.5 L1762.5 4513.6 L1764.0 4513.7 L1765.5 4513.7 L1767.0 4513.8 L1768.5 4513.8 L1770.0 4513.9 L1771.5 4513.9 L1773.0 4514.0 L1774.5 4514.0 L1776.0 4514.1 L1777.5 4514.1 L1779.0 4514.1 L1780.5 4514.2 L1782.0 4514.2 L1783.5 4514.3 L1785.0 4514.3 L1786.5 4514.3 L1788.0 4514.4 L1789.5 4514.4 L1791.0 4514.4 L1792.5 4514.5 L1794.0 4514.5 L1795.5 4514.6 L1797.0 4514.6 L1798.5 4514.7 L1800.0 4514.8 L1801.5 4514.8 L1803.0 4514.9 L1804.5 4515.0 L1806.0 4515.1 L1807.5 4515.2 L1809.0 4515.3 L1810.5 4515.4 L1812.0 4515.6 L1813.5 4515.7 L1815.0 4515.9 L1816.5 4516.1 L1818.0 4516.2 L1819.5 4516.4 L1821.0 4516.5 L1822.5 4516.7 L1824.0 4516.8 L1825.5 4516.9 L1827.0 4516.9 L1828.5 4517.0 L1830.0 4517.0 L1831.5 4517.0 L1833.0 4517.0 L1834.5 4516.9 L1836.0 4516.9 L1837.5 4516.8 L1839.0 4516.8 L1840.5 4516.7 L1842.0 4516.6 L1843.5 4516.6 L1845.0 4516.5 L1846.5 4516.4 L1848.0 4516.4 L1849.5 4516.3 L1851.0 4516.2 L1852.5 4516.2 L1854.0 4516.1 L1855.5 4516.1 L1857.0 4516.0 L1858.5 4516.0 L1860.0 4516.0 L1861.5 4516.0 L1863.0 4516.0 L1864.5 4516.1 L1866.0 4516.1 L1867.5 4516.2 L1869.0 4516.2 L1870.5 4516.3 L1872.0 4516.4 L1873.5 4516.4 L1875.0 4516.5 L1876.5 4516.6 L1878.0 4516.6 L1879.5 4516.7 L1881.0 4516.8 L1882.5 4516.8 L1884.0 4516.9 L1885.5 4516.9 L1887.0 4517.0 L1888.5 4517.0 L1890.0 4517.0 L1891.5 4517.0 L1893.0 4517.0 L1894.5 4517.0 L1896.0 4516.9 L1897.5 4516.9 L1899.0 4516.8 L1900.5 4516.8 L1902.0 4516.7 L1903.5 4516.6 L1905.0 4516.5 L1906.5 4516.4 L1908.0 4516.3 L1909.5 4516.2 L1911.0 4516.1 L1912.5 4515.9 L1914.0 4515.8 L1915.5 4515.7 L1917.0 4515.5 L1918.5 4515.4 L1920.0 4515.2 L1921.5 4515.1"/>
</defs>
<rect x="0" y="0" width="2491" height="4906" fill="#fff"/>
<use href="#c0" fill="none" stroke="#b4b4b4" stroke-width="6.70" stroke-linejoin="round" stroke-linecap="round"/>
<line x1="925.0" y1="388.0" x2="1226.5" y2="216.5" stroke="#b4b4b4" stroke-width="6.00" stroke-linecap="round"/>
<line x1="824.0" y1="766.0" x2="962.5" y2="895.0" stroke="#b4b4b4" stroke-width="6.00" stroke-linecap="round"/>
<line x1="1804.0" y1="641.0" x2="1643.5" y2="807.5" stroke="#b4b4b4" stroke-width="6.00" stroke-linecap="round"/>
<use href="#c1" fill="none" stroke="#b4b4b4" stroke-width="5.90" stroke-linejoin="round" stroke-linecap="round"/>
<use href="#c2" fill="none" stroke="#b4b4b4" stroke-width="5.90" stroke-linejoin="round" stroke-linecap="round"/>
<line x1="1176.6" y1="1942.0" x2="1573.0" y2="1782.6" stroke="#b4b4b4" stroke-width="5.80" stroke-linecap="round"/>
<line x1="937.0" y1="2311.0" x2="690.0" y2="2518.5" stroke="#b4b4b4" stroke-width="5.80" stroke-linecap="round"/>
<use href="#c3" fill="none" stroke="#b4b4b4" stroke-width="5.50" stroke-linejoin="round" stroke-linecap="round"/>
<use href="#c4" fill="none" stroke="#b4b4b4" stroke-width="5.50" stroke-linejoin="round" stroke-linecap="round"/>
<use href="#c5" fill="none" stroke="#b4b4b4" stroke-width="5.50" stroke-linejoin="round" stroke-linecap="round"/>
<use href="#c6" fill="none" stroke="#b4b4b4" stroke-width="5.50" stroke-linejoin="round" stroke-linecap="round"/>
<line x1="697.5" y1="3733.5" x2="1099.0" y2="3864.0" stroke="#b4b4b4" stroke-width="5.50" stroke-linecap="round"/>
<line x1="554.0" y1="4080.0" x2="842.5" y2="4261.0" stroke="#b4b4b4" stroke-width="5.50" stroke-linecap="round"/>
<line x1="1557.7" y1="3675.8" x2="1343.5" y2="3586.5" stroke="#b4b4b4" stroke-width="5.50" stroke-linecap="round"/>
<rect x="96.0" y="37.7" width="2022.0" height="1174.3" fill="none" stroke="#e4e4e4" stroke-width="7.70"/>
<rect x="292.0" y="1623.0" width="1738.0" height="1295.0" fill="none" stroke="#e4e4e4" stroke-width="7.90"/>
<rect x="260.0" y="3338.0" width="1664.0" height="1181.0" fill="none" stroke="#e4e4e4" stroke-width="7.70"/>
<g>
<use href="#c0" fill="none" stroke="#111" stroke-width="3.50" stroke-linejoin="round" stroke-linecap="round"/>
<line x1="925.0" y1="388.0" x2="1226.5" y2="216.5" stroke="#2e2e2e" stroke-width="2.80" stroke-linecap="round"/>
<line x1="824.0" y1="766.0" x2="962.5" y2="895.0" stroke="#2e2e2e" stroke-width="2.80" stroke-linecap="round"/>
<line x1="1804.0" y1="641.0" x2="1643.5" y2="807.5" stroke="#2e2e2e" stroke-width="2.80" stroke-linecap="round"/>
<text transform="translate(2160.19 76.58) scale(0.6723 0.6313)" font-family="Liberation Serif, serif" font-weight="normal" font-size="100" fill="#000" stroke="#000" stroke-width="3.38" stroke-linejoin="round">14,000</text>
<text transform="translate(2164.02 229.98) scale(0.6692 0.6328)" font-family="Liberation Serif, serif" font-weight="normal" font-size="100" fill="#000" stroke="#000" stroke-width="3.38" stroke-linejoin="round">12,000</text>
<text transform="translate(2166.94 387.28) scale(0.6673 0.6372)" font-family="Liberation Serif, serif" font-weight="normal" font-size="100" fill="#000" stroke="#000" stroke-width="3.37" stroke-linejoin="round">10,000</text>
<text transform="translate(2186.60 554.67) scale(0.6575 0.6461)" font-family="Liberation Serif, serif" font-weight="normal" font-size="100" fill="#000" stroke="#000" stroke-width="3.38" stroke-linejoin="round">8000</text>
<text transform="translate(2185.88 724.18) scale(0.6566 0.6328)" font-family="Liberation Serif, serif" font-weight="normal" font-size="100" fill="#000" stroke="#000" stroke-width="3.41" stroke-linejoin="round">6000</text>
<text transform="translate(2186.52 890.99) scale(0.6533 0.6239)" font-family="Liberation Serif, serif" font-weight="normal" font-size="100" fill="#000" stroke="#000" stroke-width="3.45" stroke-linejoin="round">4000</text>
<text transform="translate(2186.71 1058.30) scale(0.6585 0.6194)" font-family="Liberation Serif, serif" font-weight="normal" font-size="100" fill="#000" stroke="#000" stroke-width="3.44" stroke-linejoin="round">2000</text>
<text transform="translate(2186.69 1224.30) scale(0.6323 0.6120)" font-family="Liberation Serif, serif" font-weight="normal" font-size="100" fill="#000" stroke="#000" stroke-width="3.54" stroke-linejoin="round">0</text>
<text transform="translate(27.97 1311.47) scale(0.5950 0.5438)" font-family="Liberation Sans, sans-serif" font-weight="normal" font-size="100" fill="#000" stroke="#000" stroke-width="3.51" stroke-linejoin="round">1200</text>
<text transform="translate(364.97 1311.47) scale(0.5950 0.5438)" font-family="Liberation Sans, sans-serif" font-weight="normal" font-size="100" fill="#000" stroke="#000" stroke-width="3.51" stroke-linejoin="round">1000</text>
<text transform="translate(719.38 1311.47) scale(0.6022 0.5438)" font-family="Liberation Sans, sans-serif" font-weight="normal" font-size="100" fill="#000" stroke="#000" stroke-width="3.49" stroke-linejoin="round">800</text>
<text transform="translate(1056.98 1311.47) scale(0.5955 0.5438)" font-family="Liberation Sans, sans-serif" font-weight="normal" font-size="100" fill="#000" stroke="#000" stroke-width="3.51" stroke-linejoin="round">600</text>
<text transform="translate(1395.63 1311.47) scale(0.5976 0.5438)" font-family="Liberation Sans, sans-serif" font-weight="normal" font-size="100" fill="#000" stroke="#000" stroke-width="3.50" stroke-linejoin="round">400</text>
<text transform="translate(1730.94 1311.47) scale(0.6079 0.5438)" font-family="Liberation Sans, sans-serif" font-weight="normal" font-size="100" fill="#000" stroke="#000" stroke-width="3.47" stroke-linejoin="round">200</text>
<text transform="translate(2103.33 1311.47) scale(0.5544 0.5438)" font-family="Liberation Sans, sans-serif" font-weight="normal" font-size="100" fill="#000" stroke="#000" stroke-width="3.64" stroke-linejoin="round">0</text>
<text transform="translate(831.95 1392.40) scale(0.7129 0.6552)" font-family="Liberation Serif, serif" font-weight="normal" font-size="100" fill="#000" stroke="#000" stroke-width="2.92" stroke-linejoin="round">Binding energy</text>
<text transform="translate(1276.84 1387.02) scale(0.6508 0.5437)" font-family="Liberation Serif, serif" font-weight="normal" font-size="100" fill="#000" stroke="#000" stroke-width="3.35" stroke-linejoin="round">(eV)</text>
<text transform="translate(1198.59 1507.95) scale(0.6619 0.7444)" font-family="Liberation Serif, serif" font-weight="normal" font-size="100" fill="#000" stroke="#000" stroke-width="0.85" stroke-linejoin="round">(</text>
<text transform="translate(1260.57 1507.95) scale(0.6619 0.7444)" font-family="Liberation Serif, serif" font-weight="normal" font-size="100" fill="#000" stroke="#000" stroke-width="0.85" stroke-linejoin="round">)</text>
<text transform="translate(1222.66 1508.05) scale(0.7246 0.7662)" font-family="Liberation Serif, serif" font-weight="bold" font-size="100" fill="#000">a</text>
<text transform="translate(711.88 434.10) scale(0.5899 0.6011)" font-family="Liberation Serif, serif" font-weight="normal" font-size="100" fill="#000">O1s</text>
<text transform="translate(646.56 681.50) scale(0.6031 0.5880)" font-family="Liberation Serif, serif" font-weight="normal" font-size="100" fill="#000">Mn2p</text>
<text transform="translate(1774.07 601.50) scale(0.5916 0.5890)" font-family="Liberation Serif, serif" font-weight="normal" font-size="100" fill="#000">C1s</text>
<text transform="translate(2426.00 824.64) rotate(-90) scale(0.7299 0.6949)" font-family="Liberation Serif, serif" font-weight="normal" font-size="100" fill="#000" stroke="#000" stroke-width="2.81" stroke-linejoin="round">Intensity</text>
<text transform="translate(2419.16 565.11) rotate(-90) scale(0.6612 0.5327)" font-family="Liberation Serif, serif" font-weight="normal" font-size="100" fill="#000" stroke="#000" stroke-width="3.35" stroke-linejoin="round">(a.u.)</text>
<use href="#c1" fill="none" stroke="#2a2a2a" stroke-width="2.70" stroke-linejoin="round" stroke-linecap="round"/>
<use href="#c2" fill="none" stroke="#2a2a2a" stroke-width="2.70" stroke-linejoin="round" stroke-linecap="round"/>
<line x1="1176.6" y1="1942.0" x2="1573.0" y2="1782.6" stroke="#2a2a2a" stroke-width="2.60" stroke-linecap="round"/>
<line x1="937.0" y1="2311.0" x2="690.0" y2="2518.5" stroke="#2a2a2a" stroke-width="2.60" stroke-linecap="round"/>
<text transform="translate(2108.54 1648.14) scale(0.8096 0.7765)" font-family="Liberation Serif, serif" font-weight="normal" font-size="100" fill="#000" stroke="#000" stroke-width="2.77" stroke-linejoin="round">200</text>
<text transform="translate(2105.62 1777.94) scale(0.8282 0.7824)" font-family="Liberation Serif, serif" font-weight="normal" font-size="100" fill="#000" stroke="#000" stroke-width="2.73" stroke-linejoin="round">180</text>
<text transform="translate(2105.62 1906.54) scale(0.8282 0.7824)" font-family="Liberation Serif, serif" font-weight="normal" font-size="100" fill="#000" stroke="#000" stroke-width="2.73" stroke-linejoin="round">160</text>
<text transform="translate(2105.62 2036.53) scale(0.8282 0.7884)" font-family="Liberation Serif, serif" font-weight="normal" font-size="100" fill="#000" stroke="#000" stroke-width="2.72" stroke-linejoin="round">140</text>
<text transform="translate(2105.62 2164.55) scale(0.8282 0.7661)" font-family="Liberation Serif, serif" font-weight="normal" font-size="100" fill="#000" stroke="#000" stroke-width="2.76" stroke-linejoin="round">120</text>
<text transform="translate(2105.62 2294.15) scale(0.8282 0.7691)" font-family="Liberation Serif, serif" font-weight="normal" font-size="100" fill="#000" stroke="#000" stroke-width="2.75" stroke-linejoin="round">100</text>
<text transform="translate(2109.94 2423.63) scale(0.7783 0.7869)" font-family="Liberation Serif, serif" font-weight="normal" font-size="100" fill="#000" stroke="#000" stroke-width="2.81" stroke-linejoin="round">80</text>
<text transform="translate(2109.54 2552.82) scale(0.7824 0.7958)" font-family="Liberation Serif, serif" font-weight="normal" font-size="100" fill="#000" stroke="#000" stroke-width="2.79" stroke-linejoin="round">60</text>
<text transform="translate(2109.98 2682.72) scale(0.7778 0.7958)" font-family="Liberation Serif, serif" font-weight="normal" font-size="100" fill="#000" stroke="#000" stroke-width="2.80" stroke-linejoin="round">40</text>
<text transform="translate(2109.46 2811.34) scale(0.7833 0.7750)" font-family="Liberation Serif, serif" font-weight="normal" font-size="100" fill="#000" stroke="#000" stroke-width="2.82" stroke-linejoin="round">20</text>
<text transform="translate(2108.84 2940.73) scale(0.8565 0.7869)" font-family="Liberation Serif, serif" font-weight="normal" font-size="100" fill="#000" stroke="#000" stroke-width="2.68" stroke-linejoin="round">0</text>
<text transform="translate(383.95 3023.85) scale(0.7971 0.7655)" font-family="Liberation Sans, sans-serif" font-weight="normal" font-size="100" fill="#000" stroke="#000" stroke-width="1.02" stroke-linejoin="round">655</text>
<text transform="translate(781.47 3023.85) scale(0.7741 0.7655)" font-family="Liberation Sans, sans-serif" font-weight="normal" font-size="100" fill="#000" stroke="#000" stroke-width="1.04" stroke-linejoin="round">650</text>
<text transform="translate(1175.27 3023.85) scale(0.8136 0.7655)" font-family="Liberation Sans, sans-serif" font-weight="normal" font-size="100" fill="#000" stroke="#000" stroke-width="1.01" stroke-linejoin="round">645</text>
<text transform="translate(1570.40 3023.85) scale(0.7868 0.7655)" font-family="Liberation Sans, sans-serif" font-weight="normal" font-size="100" fill="#000" stroke="#000" stroke-width="1.03" stroke-linejoin="round">640</text>
<text transform="translate(1966.15 3023.85) scale(0.7590 0.7655)" font-family="Liberation Sans, sans-serif" font-weight="normal" font-size="100" fill="#000" stroke="#000" stroke-width="1.05" stroke-linejoin="round">635</text>
<text transform="translate(934.48 3109.95) scale(0.9280 0.8293)" font-family="Liberation Serif, serif" font-weight="normal" font-size="100" fill="#000" stroke="#000" stroke-width="2.62" stroke-linejoin="round">Binding energy</text>
<text transform="translate(1512.03 3104.08) scale(0.8457 0.7080)" font-family="Liberation Serif, serif" font-weight="normal" font-size="100" fill="#000" stroke="#000" stroke-width="2.96" stroke-linejoin="round">(eV)</text>
<text transform="translate(1193.17 3238.49) scale(0.6892 0.7521)" font-family="Liberation Serif, serif" font-weight="normal" font-size="100" fill="#000" stroke="#000" stroke-width="0.83" stroke-linejoin="round">(</text>
<text transform="translate(1263.47 3238.49) scale(0.6930 0.7521)" font-family="Liberation Serif, serif" font-weight="normal" font-size="100" fill="#000" stroke="#000" stroke-width="0.83" stroke-linejoin="round">)</text>
<text transform="translate(1216.97 3238.73) scale(0.8132 0.7930)" font-family="Liberation Serif, serif" font-weight="bold" font-size="100" fill="#000">b</text>
<text transform="translate(794.67 1982.00) scale(0.7404 0.7331)" font-family="Liberation Serif, serif" font-weight="normal" font-size="100" fill="#000">Mn2p 641ev</text>
<text transform="translate(778.86 2295.00) scale(0.7420 0.7331)" font-family="Liberation Serif, serif" font-weight="normal" font-size="100" fill="#000">Mn2p 652ev</text>
<use href="#c3" fill="none" stroke="#2e2e2e" stroke-width="2.30" stroke-linejoin="round" stroke-linecap="round"/>
<use href="#c4" fill="none" stroke="#2e2e2e" stroke-width="2.30" stroke-linejoin="round" stroke-linecap="round"/>
<use href="#c5" fill="none" stroke="#2e2e2e" stroke-width="2.30" stroke-linejoin="round" stroke-linecap="round"/>
<use href="#c6" fill="none" stroke="#2e2e2e" stroke-width="2.30" stroke-linejoin="round" stroke-linecap="round"/>
<line x1="697.5" y1="3733.5" x2="1099.0" y2="3864.0" stroke="#2e2e2e" stroke-width="2.30" stroke-linecap="round"/>
<line x1="554.0" y1="4080.0" x2="842.5" y2="4261.0" stroke="#2e2e2e" stroke-width="2.30" stroke-linecap="round"/>
<line x1="1557.7" y1="3675.8" x2="1343.5" y2="3586.5" stroke="#2e2e2e" stroke-width="2.30" stroke-linecap="round"/>
<text transform="translate(1978.83 3366.00) scale(0.7255 0.7081)" font-family="Liberation Serif, serif" font-weight="normal" font-size="100" fill="#000" stroke="#000" stroke-width="3.38" stroke-linejoin="round">10,000</text>
<text transform="translate(1997.42 3480.69) scale(0.7104 0.7140)" font-family="Liberation Serif, serif" font-weight="normal" font-size="100" fill="#000" stroke="#000" stroke-width="3.40" stroke-linejoin="round">9000</text>
<text transform="translate(1997.00 3598.38) scale(0.7125 0.7244)" font-family="Liberation Serif, serif" font-weight="normal" font-size="100" fill="#000" stroke="#000" stroke-width="3.37" stroke-linejoin="round">8000</text>
<text transform="translate(1994.94 3716.11) scale(0.7230 0.6977)" font-family="Liberation Serif, serif" font-weight="normal" font-size="100" fill="#000" stroke="#000" stroke-width="3.41" stroke-linejoin="round">7000</text>
<text transform="translate(1996.64 3833.90) scale(0.7144 0.7021)" font-family="Liberation Serif, serif" font-weight="normal" font-size="100" fill="#000" stroke="#000" stroke-width="3.42" stroke-linejoin="round">6000</text>
<text transform="translate(1995.53 3952.50) scale(0.7200 0.7021)" font-family="Liberation Serif, serif" font-weight="normal" font-size="100" fill="#000" stroke="#000" stroke-width="3.40" stroke-linejoin="round">5000</text>
<text transform="translate(1998.33 4065.73) scale(0.7057 0.6799)" font-family="Liberation Serif, serif" font-weight="normal" font-size="100" fill="#000" stroke="#000" stroke-width="3.49" stroke-linejoin="round">4000</text>
<text transform="translate(1996.28 4184.12) scale(0.7162 0.6903)" font-family="Liberation Serif, serif" font-weight="normal" font-size="100" fill="#000" stroke="#000" stroke-width="3.44" stroke-linejoin="round">3000</text>
<text transform="translate(1996.57 4301.82) scale(0.7147 0.6903)" font-family="Liberation Serif, serif" font-weight="normal" font-size="100" fill="#000" stroke="#000" stroke-width="3.44" stroke-linejoin="round">2000</text>
<text transform="translate(1993.28 4419.52) scale(0.7315 0.6888)" font-family="Liberation Serif, serif" font-weight="normal" font-size="100" fill="#000" stroke="#000" stroke-width="3.41" stroke-linejoin="round">1000</text>
<text transform="translate(1996.37 4537.12) scale(0.7451 0.6903)" font-family="Liberation Serif, serif" font-weight="normal" font-size="100" fill="#000" stroke="#000" stroke-width="3.37" stroke-linejoin="round">0</text>
<text transform="translate(202.26 4639.49) scale(0.7084 0.6243)" font-family="Liberation Sans, sans-serif" font-weight="normal" font-size="100" fill="#000" stroke="#000" stroke-width="3.30" stroke-linejoin="round">537</text>
<text transform="translate(479.68 4639.49) scale(0.7054 0.6243)" font-family="Liberation Sans, sans-serif" font-weight="normal" font-size="100" fill="#000" stroke="#000" stroke-width="3.31" stroke-linejoin="round">535</text>
<text transform="translate(755.67 4639.49) scale(0.7062 0.6243)" font-family="Liberation Sans, sans-serif" font-weight="normal" font-size="100" fill="#000" stroke="#000" stroke-width="3.31" stroke-linejoin="round">533</text>
<text transform="translate(1035.01 4639.49) scale(0.6970 0.6243)" font-family="Liberation Sans, sans-serif" font-weight="normal" font-size="100" fill="#000" stroke="#000" stroke-width="3.33" stroke-linejoin="round">531</text>
<text transform="translate(1311.85 4639.49) scale(0.6869 0.6243)" font-family="Liberation Sans, sans-serif" font-weight="normal" font-size="100" fill="#000" stroke="#000" stroke-width="3.36" stroke-linejoin="round">529</text>
<text transform="translate(1588.32 4639.49) scale(0.6945 0.6243)" font-family="Liberation Sans, sans-serif" font-weight="normal" font-size="100" fill="#000" stroke="#000" stroke-width="3.34" stroke-linejoin="round">527</text>
<text transform="translate(1864.52 4639.49) scale(0.6946 0.6243)" font-family="Liberation Sans, sans-serif" font-weight="normal" font-size="100" fill="#000" stroke="#000" stroke-width="3.34" stroke-linejoin="round">525</text>
<text transform="translate(811.66 4728.50) scale(0.8463 0.7804)" font-family="Liberation Serif, serif" font-weight="normal" font-size="100" fill="#000" stroke="#000" stroke-width="2.70" stroke-linejoin="round">Binding energy</text>
<text transform="translate(1340.47 4721.71) scale(0.7585 0.6430)" font-family="Liberation Serif, serif" font-weight="normal" font-size="100" fill="#000" stroke="#000" stroke-width="3.14" stroke-linejoin="round">(eV)</text>
<text transform="translate(1200.07 4853.19) scale(0.6892 0.7521)" font-family="Liberation Serif, serif" font-weight="normal" font-size="100" fill="#000" stroke="#000" stroke-width="0.83" stroke-linejoin="round">(</text>
<text transform="translate(1257.93 4853.19) scale(0.6736 0.7521)" font-family="Liberation Serif, serif" font-weight="normal" font-size="100" fill="#000" stroke="#000" stroke-width="0.84" stroke-linejoin="round">)</text>
<text transform="translate(1224.71 4853.49) scale(0.7277 0.7638)" font-family="Liberation Serif, serif" font-weight="bold" font-size="100" fill="#000">c</text>
<text transform="translate(399.85 3702.50) scale(0.6449 0.6419)" font-family="Liberation Serif, serif" font-weight="normal" font-size="100" fill="#000">O1s 531ev</text>
<text transform="translate(293.36 4060.00) scale(0.6426 0.6041)" font-family="Liberation Serif, serif" font-weight="normal" font-size="100" fill="#000">O1s 533ev</text>
<text transform="translate(1548.76 3733.60) scale(0.6440 0.6328)" font-family="Liberation Serif, serif" font-weight="normal" font-size="100" fill="#000">O1s 529ev</text>
<text transform="translate(2228.85 4208.00) rotate(-90) scale(0.8709 0.8048)" font-family="Liberation Serif, serif" font-weight="normal" font-size="100" fill="#000" stroke="#000" stroke-width="2.74" stroke-linejoin="round">Intensity</text>
<text transform="translate(2222.03 3899.44) rotate(-90) scale(0.7953 0.6352)" font-family="Liberation Serif, serif" font-weight="normal" font-size="100" fill="#000" stroke="#000" stroke-width="3.22" stroke-linejoin="round">(a.u.)</text>
</g>
<rect x="96.0" y="37.7" width="2022.0" height="1174.3" fill="none" stroke="#303030" stroke-width="3.70"/>
<rect x="292.0" y="1623.0" width="1738.0" height="1295.0" fill="none" stroke="#303030" stroke-width="3.90"/>
<rect x="260.0" y="3338.0" width="1664.0" height="1181.0" fill="none" stroke="#303030" stroke-width="3.70"/>
</svg>
</body></html>
